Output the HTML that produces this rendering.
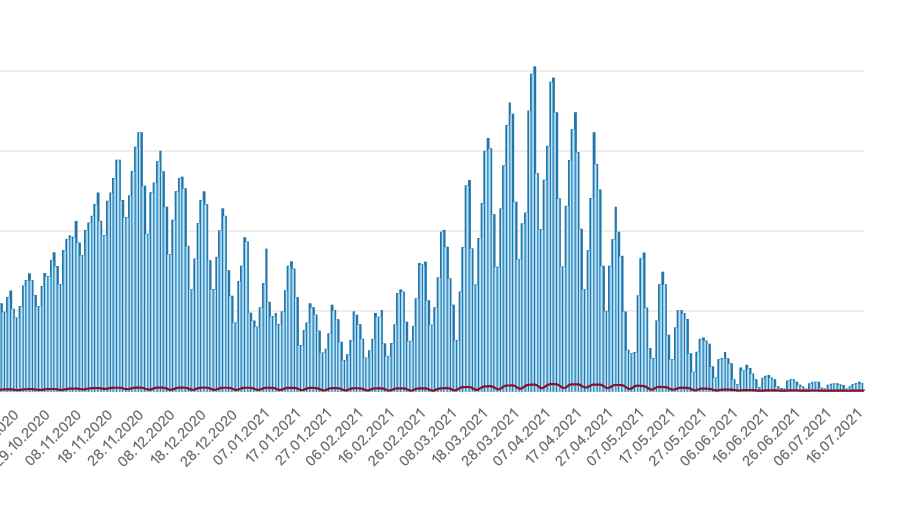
<!DOCTYPE html>
<html><head><meta charset="utf-8"><title>chart</title>
<style>
html,body{margin:0;padding:0;background:#fff;}
body{width:900px;height:505px;overflow:hidden;font-family:"Liberation Sans",sans-serif;}
svg{display:block;}
body{position:relative;}
.lb path{fill:none;stroke-width:1.45px;stroke-linejoin:miter;stroke-miterlimit:10;}
.lb{font-family:"Liberation Sans",sans-serif;font-size:14.5px;letter-spacing:0px;fill:#6a6a6a;text-anchor:start;stroke:#6a6a6a;stroke-width:0.2px;}
</style></head><body>
<svg width="900" height="505" viewBox="0 0 900 505">
<rect x="0" y="0" width="900" height="505" fill="#ffffff"/>
<g stroke="#e9e9e9" stroke-width="1.5">
<line x1="0" y1="71" x2="864" y2="71"/>
<line x1="0" y1="151" x2="864" y2="151"/>
<line x1="0" y1="231" x2="864" y2="231"/>
<line x1="0" y1="311" x2="864" y2="311"/>
<line x1="0" y1="391" x2="864" y2="391"/>
</g>
<g fill="#2476a8">
<rect x="0.000" y="303.30" width="2.867" height="88.40"/>
<rect x="3.333" y="311.70" width="2.200" height="80.00"/>
<rect x="6.000" y="297.00" width="2.867" height="94.70"/>
<rect x="9.333" y="290.50" width="2.867" height="101.20"/>
<rect x="12.667" y="308.70" width="2.200" height="83.00"/>
<rect x="15.333" y="317.50" width="2.867" height="74.20"/>
<rect x="18.667" y="306.00" width="2.867" height="85.70"/>
<rect x="22.000" y="285.50" width="2.200" height="106.20"/>
<rect x="24.667" y="280.00" width="2.867" height="111.70"/>
<rect x="28.000" y="273.30" width="2.867" height="118.40"/>
<rect x="31.333" y="280.00" width="2.200" height="111.70"/>
<rect x="34.000" y="295.00" width="2.867" height="96.70"/>
<rect x="37.333" y="306.00" width="2.867" height="85.70"/>
<rect x="40.667" y="286.00" width="2.200" height="105.70"/>
<rect x="43.333" y="273.00" width="2.867" height="118.70"/>
<rect x="46.667" y="276.00" width="2.867" height="115.70"/>
<rect x="50.000" y="260.00" width="2.200" height="131.70"/>
<rect x="52.667" y="252.30" width="2.867" height="139.40"/>
<rect x="56.000" y="266.00" width="2.867" height="125.70"/>
<rect x="59.333" y="284.00" width="2.200" height="107.70"/>
<rect x="62.000" y="250.00" width="2.867" height="141.70"/>
<rect x="65.333" y="239.00" width="2.867" height="152.70"/>
<rect x="68.667" y="235.30" width="2.200" height="156.40"/>
<rect x="71.333" y="236.70" width="2.867" height="155.00"/>
<rect x="74.667" y="221.00" width="2.867" height="170.70"/>
<rect x="78.000" y="242.50" width="2.867" height="149.20"/>
<rect x="81.333" y="255.00" width="2.200" height="136.70"/>
<rect x="84.000" y="230.00" width="2.867" height="161.70"/>
<rect x="87.333" y="222.50" width="2.867" height="169.20"/>
<rect x="90.667" y="215.80" width="2.200" height="175.90"/>
<rect x="93.333" y="204.00" width="2.867" height="187.70"/>
<rect x="96.667" y="192.50" width="2.867" height="199.20"/>
<rect x="100.000" y="220.80" width="2.200" height="170.90"/>
<rect x="102.667" y="235.00" width="2.867" height="156.70"/>
<rect x="106.000" y="200.80" width="2.867" height="190.90"/>
<rect x="109.333" y="192.50" width="2.200" height="199.20"/>
<rect x="112.000" y="178.00" width="2.867" height="213.70"/>
<rect x="115.333" y="159.70" width="2.867" height="232.00"/>
<rect x="118.667" y="159.70" width="2.200" height="232.00"/>
<rect x="121.333" y="200.00" width="2.867" height="191.70"/>
<rect x="124.667" y="217.00" width="2.867" height="174.70"/>
<rect x="128.000" y="195.30" width="2.200" height="196.40"/>
<rect x="130.667" y="171.00" width="2.867" height="220.70"/>
<rect x="134.000" y="146.70" width="2.867" height="245.00"/>
<rect x="137.333" y="132.20" width="2.200" height="259.50"/>
<rect x="140.000" y="132.20" width="2.867" height="259.50"/>
<rect x="143.333" y="185.70" width="2.867" height="206.00"/>
<rect x="146.667" y="233.80" width="2.200" height="157.90"/>
<rect x="149.333" y="192.20" width="2.867" height="199.50"/>
<rect x="152.667" y="182.50" width="2.867" height="209.20"/>
<rect x="156.000" y="161.20" width="2.867" height="230.50"/>
<rect x="159.333" y="150.80" width="2.200" height="240.90"/>
<rect x="162.000" y="171.30" width="2.867" height="220.40"/>
<rect x="165.333" y="206.70" width="2.867" height="185.00"/>
<rect x="168.667" y="254.00" width="2.200" height="137.70"/>
<rect x="171.333" y="219.70" width="2.867" height="172.00"/>
<rect x="174.667" y="191.20" width="2.867" height="200.50"/>
<rect x="178.000" y="178.00" width="2.200" height="213.70"/>
<rect x="180.667" y="176.70" width="2.867" height="215.00"/>
<rect x="184.000" y="188.30" width="2.867" height="203.40"/>
<rect x="187.333" y="245.80" width="2.200" height="145.90"/>
<rect x="190.000" y="289.30" width="2.867" height="102.40"/>
<rect x="193.333" y="258.50" width="2.867" height="133.20"/>
<rect x="196.667" y="223.00" width="2.200" height="168.70"/>
<rect x="199.333" y="200.00" width="2.867" height="191.70"/>
<rect x="202.667" y="191.30" width="2.867" height="200.40"/>
<rect x="206.000" y="204.20" width="2.200" height="187.50"/>
<rect x="208.667" y="260.20" width="2.867" height="131.50"/>
<rect x="212.000" y="289.00" width="2.867" height="102.70"/>
<rect x="215.333" y="256.80" width="2.200" height="134.90"/>
<rect x="218.000" y="230.30" width="2.867" height="161.40"/>
<rect x="221.333" y="208.30" width="2.867" height="183.40"/>
<rect x="224.667" y="215.80" width="2.200" height="175.90"/>
<rect x="227.333" y="270.20" width="2.867" height="121.50"/>
<rect x="230.667" y="295.70" width="2.867" height="96.00"/>
<rect x="234.000" y="322.50" width="2.867" height="69.20"/>
<rect x="237.333" y="281.00" width="2.200" height="110.70"/>
<rect x="240.000" y="265.70" width="2.867" height="126.00"/>
<rect x="243.333" y="237.20" width="2.867" height="154.50"/>
<rect x="246.667" y="241.40" width="2.200" height="150.30"/>
<rect x="249.333" y="312.70" width="2.867" height="79.00"/>
<rect x="252.667" y="320.50" width="2.867" height="71.20"/>
<rect x="256.000" y="326.50" width="2.200" height="65.20"/>
<rect x="258.667" y="307.30" width="2.867" height="84.40"/>
<rect x="262.000" y="283.00" width="2.867" height="108.70"/>
<rect x="265.333" y="248.60" width="2.200" height="143.10"/>
<rect x="268.000" y="301.80" width="2.867" height="89.90"/>
<rect x="271.333" y="316.00" width="2.867" height="75.70"/>
<rect x="274.667" y="313.00" width="2.200" height="78.70"/>
<rect x="277.333" y="324.00" width="2.867" height="67.70"/>
<rect x="280.667" y="311.30" width="2.867" height="80.40"/>
<rect x="284.000" y="290.20" width="2.200" height="101.50"/>
<rect x="286.667" y="265.70" width="2.867" height="126.00"/>
<rect x="290.000" y="261.30" width="2.867" height="130.40"/>
<rect x="293.333" y="268.50" width="2.200" height="123.20"/>
<rect x="296.000" y="297.20" width="2.867" height="94.50"/>
<rect x="299.333" y="345.00" width="2.867" height="46.70"/>
<rect x="302.667" y="330.00" width="2.200" height="61.70"/>
<rect x="305.333" y="322.50" width="2.867" height="69.20"/>
<rect x="308.667" y="303.30" width="2.867" height="88.40"/>
<rect x="312.000" y="307.20" width="2.867" height="84.50"/>
<rect x="315.333" y="314.50" width="2.200" height="77.20"/>
<rect x="318.000" y="330.50" width="2.867" height="61.20"/>
<rect x="321.333" y="352.50" width="2.867" height="39.20"/>
<rect x="324.667" y="348.70" width="2.200" height="43.00"/>
<rect x="327.333" y="333.30" width="2.867" height="58.40"/>
<rect x="330.667" y="304.70" width="2.867" height="87.00"/>
<rect x="334.000" y="310.00" width="2.200" height="81.70"/>
<rect x="336.667" y="319.20" width="2.867" height="72.50"/>
<rect x="340.000" y="341.70" width="2.867" height="50.00"/>
<rect x="343.333" y="360.00" width="2.200" height="31.70"/>
<rect x="346.000" y="354.20" width="2.867" height="37.50"/>
<rect x="349.333" y="340.00" width="2.867" height="51.70"/>
<rect x="352.667" y="311.30" width="2.200" height="80.40"/>
<rect x="355.333" y="314.70" width="2.867" height="77.00"/>
<rect x="358.667" y="324.20" width="2.867" height="67.50"/>
<rect x="362.000" y="338.70" width="2.200" height="53.00"/>
<rect x="364.667" y="357.50" width="2.867" height="34.20"/>
<rect x="368.000" y="350.30" width="2.867" height="41.40"/>
<rect x="371.333" y="338.70" width="2.200" height="53.00"/>
<rect x="374.000" y="313.00" width="2.867" height="78.70"/>
<rect x="377.333" y="316.70" width="2.867" height="75.00"/>
<rect x="380.667" y="310.00" width="2.200" height="81.70"/>
<rect x="383.333" y="343.30" width="2.867" height="48.40"/>
<rect x="386.667" y="355.80" width="2.867" height="35.90"/>
<rect x="390.000" y="343.00" width="2.867" height="48.70"/>
<rect x="393.333" y="324.20" width="2.200" height="67.50"/>
<rect x="396.000" y="293.00" width="2.867" height="98.70"/>
<rect x="399.333" y="289.30" width="2.867" height="102.40"/>
<rect x="402.667" y="291.50" width="2.200" height="100.20"/>
<rect x="405.333" y="321.70" width="2.867" height="70.00"/>
<rect x="408.667" y="340.80" width="2.867" height="50.90"/>
<rect x="412.000" y="325.80" width="2.200" height="65.90"/>
<rect x="414.667" y="298.30" width="2.867" height="93.40"/>
<rect x="418.000" y="263.00" width="2.867" height="128.70"/>
<rect x="421.333" y="264.20" width="2.200" height="127.50"/>
<rect x="424.000" y="261.70" width="2.867" height="130.00"/>
<rect x="427.333" y="300.20" width="2.867" height="91.50"/>
<rect x="430.667" y="324.50" width="2.200" height="67.20"/>
<rect x="433.333" y="307.30" width="2.867" height="84.40"/>
<rect x="436.667" y="277.30" width="2.867" height="114.40"/>
<rect x="440.000" y="231.70" width="2.200" height="160.00"/>
<rect x="442.667" y="230.00" width="2.867" height="161.70"/>
<rect x="446.000" y="246.70" width="2.867" height="145.00"/>
<rect x="449.333" y="278.30" width="2.200" height="113.40"/>
<rect x="452.000" y="304.70" width="2.867" height="87.00"/>
<rect x="455.333" y="340.00" width="2.867" height="51.70"/>
<rect x="458.667" y="291.50" width="2.200" height="100.20"/>
<rect x="461.333" y="247.00" width="2.867" height="144.70"/>
<rect x="464.667" y="185.30" width="2.867" height="206.40"/>
<rect x="468.000" y="180.00" width="2.867" height="211.70"/>
<rect x="471.333" y="248.30" width="2.200" height="143.40"/>
<rect x="474.000" y="284.50" width="2.867" height="107.20"/>
<rect x="477.333" y="238.00" width="2.867" height="153.70"/>
<rect x="480.667" y="203.00" width="2.200" height="188.70"/>
<rect x="483.333" y="150.80" width="2.867" height="240.90"/>
<rect x="486.667" y="138.00" width="2.867" height="253.70"/>
<rect x="490.000" y="148.30" width="2.200" height="243.40"/>
<rect x="492.667" y="214.20" width="2.867" height="177.50"/>
<rect x="496.000" y="266.70" width="2.867" height="125.00"/>
<rect x="499.333" y="208.30" width="2.200" height="183.40"/>
<rect x="502.000" y="165.30" width="2.867" height="226.40"/>
<rect x="505.333" y="125.00" width="2.867" height="266.70"/>
<rect x="508.667" y="102.50" width="2.200" height="289.20"/>
<rect x="511.333" y="113.70" width="2.867" height="278.00"/>
<rect x="514.667" y="201.70" width="2.867" height="190.00"/>
<rect x="518.000" y="259.20" width="2.200" height="132.50"/>
<rect x="520.667" y="223.30" width="2.867" height="168.40"/>
<rect x="524.000" y="212.50" width="2.867" height="179.20"/>
<rect x="527.333" y="110.50" width="2.200" height="281.20"/>
<rect x="530.000" y="73.70" width="2.867" height="318.00"/>
<rect x="533.333" y="66.30" width="2.867" height="325.40"/>
<rect x="536.667" y="173.00" width="2.200" height="218.70"/>
<rect x="539.333" y="229.20" width="2.867" height="162.50"/>
<rect x="542.667" y="179.70" width="2.867" height="212.00"/>
<rect x="546.000" y="145.80" width="2.867" height="245.90"/>
<rect x="549.333" y="81.70" width="2.200" height="310.00"/>
<rect x="552.000" y="77.50" width="2.867" height="314.20"/>
<rect x="555.333" y="112.20" width="2.867" height="279.50"/>
<rect x="558.667" y="198.30" width="2.200" height="193.40"/>
<rect x="561.333" y="266.50" width="2.867" height="125.20"/>
<rect x="564.667" y="205.80" width="2.867" height="185.90"/>
<rect x="568.000" y="160.00" width="2.200" height="231.70"/>
<rect x="570.667" y="129.20" width="2.867" height="262.50"/>
<rect x="574.000" y="112.20" width="2.867" height="279.50"/>
<rect x="577.333" y="152.00" width="2.200" height="239.70"/>
<rect x="580.000" y="228.70" width="2.867" height="163.00"/>
<rect x="583.333" y="289.20" width="2.867" height="102.50"/>
<rect x="586.667" y="250.00" width="2.200" height="141.70"/>
<rect x="589.333" y="198.00" width="2.867" height="193.70"/>
<rect x="592.667" y="132.20" width="2.867" height="259.50"/>
<rect x="596.000" y="164.00" width="2.200" height="227.70"/>
<rect x="598.667" y="189.50" width="2.867" height="202.20"/>
<rect x="602.000" y="265.80" width="2.867" height="125.90"/>
<rect x="605.333" y="310.80" width="2.200" height="80.90"/>
<rect x="608.000" y="265.80" width="2.867" height="125.90"/>
<rect x="611.333" y="239.20" width="2.867" height="152.50"/>
<rect x="614.667" y="206.70" width="2.200" height="185.00"/>
<rect x="617.333" y="231.70" width="2.867" height="160.00"/>
<rect x="620.667" y="255.80" width="2.867" height="135.90"/>
<rect x="624.000" y="311.50" width="2.867" height="80.20"/>
<rect x="627.333" y="349.70" width="2.200" height="42.00"/>
<rect x="630.000" y="353.30" width="2.867" height="38.40"/>
<rect x="633.333" y="352.00" width="2.867" height="39.70"/>
<rect x="636.667" y="295.30" width="2.200" height="96.40"/>
<rect x="639.333" y="258.20" width="2.867" height="133.50"/>
<rect x="642.667" y="252.50" width="2.867" height="139.20"/>
<rect x="646.000" y="307.50" width="2.200" height="84.20"/>
<rect x="648.667" y="348.00" width="2.867" height="43.70"/>
<rect x="652.000" y="358.00" width="2.867" height="33.70"/>
<rect x="655.333" y="320.30" width="2.200" height="71.40"/>
<rect x="658.000" y="284.20" width="2.867" height="107.50"/>
<rect x="661.333" y="271.70" width="2.867" height="120.00"/>
<rect x="664.667" y="284.20" width="2.200" height="107.50"/>
<rect x="667.333" y="334.70" width="2.867" height="57.00"/>
<rect x="670.667" y="359.20" width="2.867" height="32.50"/>
<rect x="674.000" y="327.30" width="2.200" height="64.40"/>
<rect x="676.667" y="310.20" width="2.867" height="81.50"/>
<rect x="680.000" y="310.20" width="2.867" height="81.50"/>
<rect x="683.333" y="313.00" width="2.200" height="78.70"/>
<rect x="686.000" y="319.00" width="2.867" height="72.70"/>
<rect x="689.333" y="353.30" width="2.867" height="38.40"/>
<rect x="692.667" y="371.70" width="2.200" height="20.00"/>
<rect x="695.333" y="351.70" width="2.867" height="40.00"/>
<rect x="698.667" y="338.80" width="2.867" height="52.90"/>
<rect x="702.000" y="337.50" width="2.867" height="54.20"/>
<rect x="705.333" y="340.50" width="2.200" height="51.20"/>
<rect x="708.000" y="343.70" width="2.867" height="48.00"/>
<rect x="711.333" y="366.30" width="2.867" height="25.40"/>
<rect x="714.667" y="377.50" width="2.200" height="14.20"/>
<rect x="717.333" y="359.20" width="2.867" height="32.50"/>
<rect x="720.667" y="358.00" width="2.867" height="33.70"/>
<rect x="724.000" y="352.00" width="2.200" height="39.70"/>
<rect x="726.667" y="358.30" width="2.867" height="33.40"/>
<rect x="730.000" y="363.30" width="2.867" height="28.40"/>
<rect x="733.333" y="379.20" width="2.200" height="12.50"/>
<rect x="736.000" y="384.20" width="2.867" height="7.50"/>
<rect x="739.333" y="367.50" width="2.867" height="24.20"/>
<rect x="742.667" y="370.30" width="2.200" height="21.40"/>
<rect x="745.333" y="364.80" width="2.867" height="26.90"/>
<rect x="748.667" y="368.00" width="2.867" height="23.70"/>
<rect x="752.000" y="373.50" width="2.200" height="18.20"/>
<rect x="754.667" y="379.20" width="2.867" height="12.50"/>
<rect x="758.000" y="387.00" width="2.867" height="4.70"/>
<rect x="761.333" y="377.80" width="2.200" height="13.90"/>
<rect x="764.000" y="375.80" width="2.867" height="15.90"/>
<rect x="767.333" y="375.00" width="2.867" height="16.70"/>
<rect x="770.667" y="377.50" width="2.200" height="14.20"/>
<rect x="773.333" y="379.20" width="2.867" height="12.50"/>
<rect x="776.667" y="386.30" width="2.867" height="5.40"/>
<rect x="780.000" y="388.00" width="2.867" height="3.70"/>
<rect x="783.333" y="388.50" width="2.200" height="3.20"/>
<rect x="786.000" y="380.50" width="2.867" height="11.20"/>
<rect x="789.333" y="379.20" width="2.867" height="12.50"/>
<rect x="792.667" y="379.20" width="2.200" height="12.50"/>
<rect x="795.333" y="381.70" width="2.867" height="10.00"/>
<rect x="798.667" y="384.70" width="2.867" height="7.00"/>
<rect x="802.000" y="386.30" width="2.200" height="5.40"/>
<rect x="804.667" y="388.50" width="2.867" height="3.20"/>
<rect x="808.000" y="383.30" width="2.867" height="8.40"/>
<rect x="811.333" y="381.70" width="2.200" height="10.00"/>
<rect x="814.000" y="381.70" width="2.867" height="10.00"/>
<rect x="817.333" y="381.70" width="2.867" height="10.00"/>
<rect x="820.667" y="387.50" width="2.200" height="4.20"/>
<rect x="823.333" y="388.50" width="2.867" height="3.20"/>
<rect x="826.667" y="384.70" width="2.867" height="7.00"/>
<rect x="830.000" y="383.70" width="2.200" height="8.00"/>
<rect x="832.667" y="383.30" width="2.867" height="8.40"/>
<rect x="836.000" y="383.30" width="2.867" height="8.40"/>
<rect x="839.333" y="384.20" width="2.200" height="7.50"/>
<rect x="842.000" y="385.00" width="2.867" height="6.70"/>
<rect x="845.333" y="388.50" width="2.867" height="3.20"/>
<rect x="848.667" y="386.30" width="2.200" height="5.40"/>
<rect x="851.333" y="384.20" width="2.867" height="7.50"/>
<rect x="854.667" y="383.00" width="2.867" height="8.70"/>
<rect x="858.000" y="381.70" width="2.867" height="10.00"/>
<rect x="861.333" y="383.00" width="2.200" height="8.70"/>
</g>
<g fill="#94d3f8">
<rect x="0.000" y="303.90" width="0.667" height="87.80"/>
<rect x="1.667" y="312.30" width="1.000" height="79.40"/>
<rect x="3.333" y="312.30" width="0.667" height="79.40"/>
<rect x="5.000" y="312.30" width="0.333" height="79.40"/>
<rect x="6.000" y="312.30" width="0.667" height="79.40"/>
<rect x="7.667" y="297.60" width="1.000" height="94.10"/>
<rect x="9.333" y="297.60" width="0.667" height="94.10"/>
<rect x="11.000" y="309.30" width="1.000" height="82.40"/>
<rect x="12.667" y="309.30" width="0.667" height="82.40"/>
<rect x="14.333" y="318.10" width="0.333" height="73.60"/>
<rect x="15.333" y="318.10" width="0.667" height="73.60"/>
<rect x="17.000" y="318.10" width="1.000" height="73.60"/>
<rect x="18.667" y="318.10" width="0.667" height="73.60"/>
<rect x="20.333" y="306.60" width="1.000" height="85.10"/>
<rect x="22.000" y="306.60" width="0.667" height="85.10"/>
<rect x="23.667" y="286.10" width="0.333" height="105.60"/>
<rect x="24.667" y="286.10" width="0.667" height="105.60"/>
<rect x="26.333" y="280.60" width="1.000" height="111.10"/>
<rect x="28.000" y="280.60" width="0.667" height="111.10"/>
<rect x="29.667" y="280.60" width="1.000" height="111.10"/>
<rect x="31.333" y="280.60" width="0.667" height="111.10"/>
<rect x="33.000" y="295.60" width="0.333" height="96.10"/>
<rect x="34.000" y="295.60" width="0.667" height="96.10"/>
<rect x="35.667" y="306.60" width="1.000" height="85.10"/>
<rect x="37.333" y="306.60" width="0.667" height="85.10"/>
<rect x="39.000" y="306.60" width="1.000" height="85.10"/>
<rect x="40.667" y="306.60" width="0.667" height="85.10"/>
<rect x="42.333" y="286.60" width="0.333" height="105.10"/>
<rect x="43.333" y="286.60" width="0.667" height="105.10"/>
<rect x="45.000" y="276.60" width="1.000" height="115.10"/>
<rect x="46.667" y="276.60" width="0.667" height="115.10"/>
<rect x="48.333" y="276.60" width="1.000" height="115.10"/>
<rect x="50.000" y="276.60" width="0.667" height="115.10"/>
<rect x="51.667" y="260.60" width="0.333" height="131.10"/>
<rect x="52.667" y="260.60" width="0.667" height="131.10"/>
<rect x="54.333" y="266.60" width="1.000" height="125.10"/>
<rect x="56.000" y="266.60" width="0.667" height="125.10"/>
<rect x="57.667" y="284.60" width="1.000" height="107.10"/>
<rect x="59.333" y="284.60" width="0.667" height="107.10"/>
<rect x="61.000" y="284.60" width="0.333" height="107.10"/>
<rect x="62.000" y="284.60" width="0.667" height="107.10"/>
<rect x="63.667" y="250.60" width="1.000" height="141.10"/>
<rect x="65.333" y="250.60" width="0.667" height="141.10"/>
<rect x="67.000" y="239.60" width="1.000" height="152.10"/>
<rect x="68.667" y="239.60" width="0.667" height="152.10"/>
<rect x="70.333" y="237.30" width="0.333" height="154.40"/>
<rect x="71.333" y="237.30" width="0.667" height="154.40"/>
<rect x="73.000" y="237.30" width="1.000" height="154.40"/>
<rect x="74.667" y="237.30" width="0.667" height="154.40"/>
<rect x="76.333" y="243.10" width="1.000" height="148.60"/>
<rect x="78.000" y="243.10" width="0.667" height="148.60"/>
<rect x="79.667" y="255.60" width="1.000" height="136.10"/>
<rect x="81.333" y="255.60" width="0.667" height="136.10"/>
<rect x="83.000" y="255.60" width="0.333" height="136.10"/>
<rect x="84.000" y="255.60" width="0.667" height="136.10"/>
<rect x="85.667" y="230.60" width="1.000" height="161.10"/>
<rect x="87.333" y="230.60" width="0.667" height="161.10"/>
<rect x="89.000" y="223.10" width="1.000" height="168.60"/>
<rect x="90.667" y="223.10" width="0.667" height="168.60"/>
<rect x="92.333" y="216.40" width="0.333" height="175.30"/>
<rect x="93.333" y="216.40" width="0.667" height="175.30"/>
<rect x="95.000" y="204.60" width="1.000" height="187.10"/>
<rect x="96.667" y="204.60" width="0.667" height="187.10"/>
<rect x="98.333" y="221.40" width="1.000" height="170.30"/>
<rect x="100.000" y="221.40" width="0.667" height="170.30"/>
<rect x="101.667" y="235.60" width="0.333" height="156.10"/>
<rect x="102.667" y="235.60" width="0.667" height="156.10"/>
<rect x="104.333" y="235.60" width="1.000" height="156.10"/>
<rect x="106.000" y="235.60" width="0.667" height="156.10"/>
<rect x="107.667" y="201.40" width="1.000" height="190.30"/>
<rect x="109.333" y="201.40" width="0.667" height="190.30"/>
<rect x="111.000" y="193.10" width="0.333" height="198.60"/>
<rect x="112.000" y="193.10" width="0.667" height="198.60"/>
<rect x="113.667" y="178.60" width="1.000" height="213.10"/>
<rect x="115.333" y="178.60" width="0.667" height="213.10"/>
<rect x="117.000" y="160.30" width="1.000" height="231.40"/>
<rect x="118.667" y="160.30" width="0.667" height="231.40"/>
<rect x="120.333" y="200.60" width="0.333" height="191.10"/>
<rect x="121.333" y="200.60" width="0.667" height="191.10"/>
<rect x="123.000" y="217.60" width="1.000" height="174.10"/>
<rect x="124.667" y="217.60" width="0.667" height="174.10"/>
<rect x="126.333" y="217.60" width="1.000" height="174.10"/>
<rect x="128.000" y="217.60" width="0.667" height="174.10"/>
<rect x="129.667" y="195.90" width="0.333" height="195.80"/>
<rect x="130.667" y="195.90" width="0.667" height="195.80"/>
<rect x="132.333" y="171.60" width="1.000" height="220.10"/>
<rect x="134.000" y="171.60" width="0.667" height="220.10"/>
<rect x="135.667" y="147.30" width="1.000" height="244.40"/>
<rect x="137.333" y="147.30" width="0.667" height="244.40"/>
<rect x="139.000" y="132.80" width="0.333" height="258.90"/>
<rect x="140.000" y="132.80" width="0.667" height="258.90"/>
<rect x="141.667" y="186.30" width="1.000" height="205.40"/>
<rect x="143.333" y="186.30" width="0.667" height="205.40"/>
<rect x="145.000" y="234.40" width="1.000" height="157.30"/>
<rect x="146.667" y="234.40" width="0.667" height="157.30"/>
<rect x="148.333" y="234.40" width="0.333" height="157.30"/>
<rect x="149.333" y="234.40" width="0.667" height="157.30"/>
<rect x="151.000" y="192.80" width="1.000" height="198.90"/>
<rect x="152.667" y="192.80" width="0.667" height="198.90"/>
<rect x="154.333" y="183.10" width="1.000" height="208.60"/>
<rect x="156.000" y="183.10" width="0.667" height="208.60"/>
<rect x="157.667" y="161.80" width="1.000" height="229.90"/>
<rect x="159.333" y="161.80" width="0.667" height="229.90"/>
<rect x="161.000" y="171.90" width="0.333" height="219.80"/>
<rect x="162.000" y="171.90" width="0.667" height="219.80"/>
<rect x="163.667" y="207.30" width="1.000" height="184.40"/>
<rect x="165.333" y="207.30" width="0.667" height="184.40"/>
<rect x="167.000" y="254.60" width="1.000" height="137.10"/>
<rect x="168.667" y="254.60" width="0.667" height="137.10"/>
<rect x="170.333" y="254.60" width="0.333" height="137.10"/>
<rect x="171.333" y="254.60" width="0.667" height="137.10"/>
<rect x="173.000" y="220.30" width="1.000" height="171.40"/>
<rect x="174.667" y="220.30" width="0.667" height="171.40"/>
<rect x="176.333" y="191.80" width="1.000" height="199.90"/>
<rect x="178.000" y="191.80" width="0.667" height="199.90"/>
<rect x="179.667" y="178.60" width="0.333" height="213.10"/>
<rect x="180.667" y="178.60" width="0.667" height="213.10"/>
<rect x="182.333" y="188.90" width="1.000" height="202.80"/>
<rect x="184.000" y="188.90" width="0.667" height="202.80"/>
<rect x="185.667" y="246.40" width="1.000" height="145.30"/>
<rect x="187.333" y="246.40" width="0.667" height="145.30"/>
<rect x="189.000" y="289.90" width="0.333" height="101.80"/>
<rect x="190.000" y="289.90" width="0.667" height="101.80"/>
<rect x="191.667" y="289.90" width="1.000" height="101.80"/>
<rect x="193.333" y="289.90" width="0.667" height="101.80"/>
<rect x="195.000" y="259.10" width="1.000" height="132.60"/>
<rect x="196.667" y="259.10" width="0.667" height="132.60"/>
<rect x="198.333" y="223.60" width="0.333" height="168.10"/>
<rect x="199.333" y="223.60" width="0.667" height="168.10"/>
<rect x="201.000" y="200.60" width="1.000" height="191.10"/>
<rect x="202.667" y="200.60" width="0.667" height="191.10"/>
<rect x="204.333" y="204.80" width="1.000" height="186.90"/>
<rect x="206.000" y="204.80" width="0.667" height="186.90"/>
<rect x="207.667" y="260.80" width="0.333" height="130.90"/>
<rect x="208.667" y="260.80" width="0.667" height="130.90"/>
<rect x="210.333" y="289.60" width="1.000" height="102.10"/>
<rect x="212.000" y="289.60" width="0.667" height="102.10"/>
<rect x="213.667" y="289.60" width="1.000" height="102.10"/>
<rect x="215.333" y="289.60" width="0.667" height="102.10"/>
<rect x="217.000" y="257.40" width="0.333" height="134.30"/>
<rect x="218.000" y="257.40" width="0.667" height="134.30"/>
<rect x="219.667" y="230.90" width="1.000" height="160.80"/>
<rect x="221.333" y="230.90" width="0.667" height="160.80"/>
<rect x="223.000" y="216.40" width="1.000" height="175.30"/>
<rect x="224.667" y="216.40" width="0.667" height="175.30"/>
<rect x="226.333" y="270.80" width="0.333" height="120.90"/>
<rect x="227.333" y="270.80" width="0.667" height="120.90"/>
<rect x="229.000" y="296.30" width="1.000" height="95.40"/>
<rect x="230.667" y="296.30" width="0.667" height="95.40"/>
<rect x="232.333" y="323.10" width="1.000" height="68.60"/>
<rect x="234.000" y="323.10" width="0.667" height="68.60"/>
<rect x="235.667" y="323.10" width="1.000" height="68.60"/>
<rect x="237.333" y="323.10" width="0.667" height="68.60"/>
<rect x="239.000" y="281.60" width="0.333" height="110.10"/>
<rect x="240.000" y="281.60" width="0.667" height="110.10"/>
<rect x="241.667" y="266.30" width="1.000" height="125.40"/>
<rect x="243.333" y="266.30" width="0.667" height="125.40"/>
<rect x="245.000" y="242.00" width="1.000" height="149.70"/>
<rect x="246.667" y="242.00" width="0.667" height="149.70"/>
<rect x="248.333" y="313.30" width="0.333" height="78.40"/>
<rect x="249.333" y="313.30" width="0.667" height="78.40"/>
<rect x="251.000" y="321.10" width="1.000" height="70.60"/>
<rect x="252.667" y="321.10" width="0.667" height="70.60"/>
<rect x="254.333" y="327.10" width="1.000" height="64.60"/>
<rect x="256.000" y="327.10" width="0.667" height="64.60"/>
<rect x="257.667" y="327.10" width="0.333" height="64.60"/>
<rect x="258.667" y="327.10" width="0.667" height="64.60"/>
<rect x="260.333" y="307.90" width="1.000" height="83.80"/>
<rect x="262.000" y="307.90" width="0.667" height="83.80"/>
<rect x="263.667" y="283.60" width="1.000" height="108.10"/>
<rect x="265.333" y="283.60" width="0.667" height="108.10"/>
<rect x="267.000" y="302.40" width="0.333" height="89.30"/>
<rect x="268.000" y="302.40" width="0.667" height="89.30"/>
<rect x="269.667" y="316.60" width="1.000" height="75.10"/>
<rect x="271.333" y="316.60" width="0.667" height="75.10"/>
<rect x="273.000" y="316.60" width="1.000" height="75.10"/>
<rect x="274.667" y="316.60" width="0.667" height="75.10"/>
<rect x="276.333" y="324.60" width="0.333" height="67.10"/>
<rect x="277.333" y="324.60" width="0.667" height="67.10"/>
<rect x="279.000" y="324.60" width="1.000" height="67.10"/>
<rect x="280.667" y="324.60" width="0.667" height="67.10"/>
<rect x="282.333" y="311.90" width="1.000" height="79.80"/>
<rect x="284.000" y="311.90" width="0.667" height="79.80"/>
<rect x="285.667" y="290.80" width="0.333" height="100.90"/>
<rect x="286.667" y="290.80" width="0.667" height="100.90"/>
<rect x="288.333" y="266.30" width="1.000" height="125.40"/>
<rect x="290.000" y="266.30" width="0.667" height="125.40"/>
<rect x="291.667" y="269.10" width="1.000" height="122.60"/>
<rect x="293.333" y="269.10" width="0.667" height="122.60"/>
<rect x="295.000" y="297.80" width="0.333" height="93.90"/>
<rect x="296.000" y="297.80" width="0.667" height="93.90"/>
<rect x="297.667" y="345.60" width="1.000" height="46.10"/>
<rect x="299.333" y="345.60" width="0.667" height="46.10"/>
<rect x="301.000" y="345.60" width="1.000" height="46.10"/>
<rect x="302.667" y="345.60" width="0.667" height="46.10"/>
<rect x="304.333" y="330.60" width="0.333" height="61.10"/>
<rect x="305.333" y="330.60" width="0.667" height="61.10"/>
<rect x="307.000" y="323.10" width="1.000" height="68.60"/>
<rect x="308.667" y="323.10" width="0.667" height="68.60"/>
<rect x="310.333" y="307.80" width="1.000" height="83.90"/>
<rect x="312.000" y="307.80" width="0.667" height="83.90"/>
<rect x="313.667" y="315.10" width="1.000" height="76.60"/>
<rect x="315.333" y="315.10" width="0.667" height="76.60"/>
<rect x="317.000" y="331.10" width="0.333" height="60.60"/>
<rect x="318.000" y="331.10" width="0.667" height="60.60"/>
<rect x="319.667" y="353.10" width="1.000" height="38.60"/>
<rect x="321.333" y="353.10" width="0.667" height="38.60"/>
<rect x="323.000" y="353.10" width="1.000" height="38.60"/>
<rect x="324.667" y="353.10" width="0.667" height="38.60"/>
<rect x="326.333" y="349.30" width="0.333" height="42.40"/>
<rect x="327.333" y="349.30" width="0.667" height="42.40"/>
<rect x="329.000" y="333.90" width="1.000" height="57.80"/>
<rect x="330.667" y="333.90" width="0.667" height="57.80"/>
<rect x="332.333" y="310.60" width="1.000" height="81.10"/>
<rect x="334.000" y="310.60" width="0.667" height="81.10"/>
<rect x="335.667" y="319.80" width="0.333" height="71.90"/>
<rect x="336.667" y="319.80" width="0.667" height="71.90"/>
<rect x="338.333" y="342.30" width="1.000" height="49.40"/>
<rect x="340.000" y="342.30" width="0.667" height="49.40"/>
<rect x="341.667" y="360.60" width="1.000" height="31.10"/>
<rect x="343.333" y="360.60" width="0.667" height="31.10"/>
<rect x="345.000" y="360.60" width="0.333" height="31.10"/>
<rect x="346.000" y="360.60" width="0.667" height="31.10"/>
<rect x="347.667" y="354.80" width="1.000" height="36.90"/>
<rect x="349.333" y="354.80" width="0.667" height="36.90"/>
<rect x="351.000" y="340.60" width="1.000" height="51.10"/>
<rect x="352.667" y="340.60" width="0.667" height="51.10"/>
<rect x="354.333" y="315.30" width="0.333" height="76.40"/>
<rect x="355.333" y="315.30" width="0.667" height="76.40"/>
<rect x="357.000" y="324.80" width="1.000" height="66.90"/>
<rect x="358.667" y="324.80" width="0.667" height="66.90"/>
<rect x="360.333" y="339.30" width="1.000" height="52.40"/>
<rect x="362.000" y="339.30" width="0.667" height="52.40"/>
<rect x="363.667" y="358.10" width="0.333" height="33.60"/>
<rect x="364.667" y="358.10" width="0.667" height="33.60"/>
<rect x="366.333" y="358.10" width="1.000" height="33.60"/>
<rect x="368.000" y="358.10" width="0.667" height="33.60"/>
<rect x="369.667" y="350.90" width="1.000" height="40.80"/>
<rect x="371.333" y="350.90" width="0.667" height="40.80"/>
<rect x="373.000" y="339.30" width="0.333" height="52.40"/>
<rect x="374.000" y="339.30" width="0.667" height="52.40"/>
<rect x="375.667" y="317.30" width="1.000" height="74.40"/>
<rect x="377.333" y="317.30" width="0.667" height="74.40"/>
<rect x="379.000" y="317.30" width="1.000" height="74.40"/>
<rect x="380.667" y="317.30" width="0.667" height="74.40"/>
<rect x="382.333" y="343.90" width="0.333" height="47.80"/>
<rect x="383.333" y="343.90" width="0.667" height="47.80"/>
<rect x="385.000" y="356.40" width="1.000" height="35.30"/>
<rect x="386.667" y="356.40" width="0.667" height="35.30"/>
<rect x="388.333" y="356.40" width="1.000" height="35.30"/>
<rect x="390.000" y="356.40" width="0.667" height="35.30"/>
<rect x="391.667" y="343.60" width="1.000" height="48.10"/>
<rect x="393.333" y="343.60" width="0.667" height="48.10"/>
<rect x="395.000" y="324.80" width="0.333" height="66.90"/>
<rect x="396.000" y="324.80" width="0.667" height="66.90"/>
<rect x="397.667" y="293.60" width="1.000" height="98.10"/>
<rect x="399.333" y="293.60" width="0.667" height="98.10"/>
<rect x="401.000" y="292.10" width="1.000" height="99.60"/>
<rect x="402.667" y="292.10" width="0.667" height="99.60"/>
<rect x="404.333" y="322.30" width="0.333" height="69.40"/>
<rect x="405.333" y="322.30" width="0.667" height="69.40"/>
<rect x="407.000" y="341.40" width="1.000" height="50.30"/>
<rect x="408.667" y="341.40" width="0.667" height="50.30"/>
<rect x="410.333" y="341.40" width="1.000" height="50.30"/>
<rect x="412.000" y="341.40" width="0.667" height="50.30"/>
<rect x="413.667" y="326.40" width="0.333" height="65.30"/>
<rect x="414.667" y="326.40" width="0.667" height="65.30"/>
<rect x="416.333" y="298.90" width="1.000" height="92.80"/>
<rect x="418.000" y="298.90" width="0.667" height="92.80"/>
<rect x="419.667" y="264.80" width="1.000" height="126.90"/>
<rect x="421.333" y="264.80" width="0.667" height="126.90"/>
<rect x="423.000" y="264.80" width="0.333" height="126.90"/>
<rect x="424.000" y="264.80" width="0.667" height="126.90"/>
<rect x="425.667" y="300.80" width="1.000" height="90.90"/>
<rect x="427.333" y="300.80" width="0.667" height="90.90"/>
<rect x="429.000" y="325.10" width="1.000" height="66.60"/>
<rect x="430.667" y="325.10" width="0.667" height="66.60"/>
<rect x="432.333" y="325.10" width="0.333" height="66.60"/>
<rect x="433.333" y="325.10" width="0.667" height="66.60"/>
<rect x="435.000" y="307.90" width="1.000" height="83.80"/>
<rect x="436.667" y="307.90" width="0.667" height="83.80"/>
<rect x="438.333" y="277.90" width="1.000" height="113.80"/>
<rect x="440.000" y="277.90" width="0.667" height="113.80"/>
<rect x="441.667" y="232.30" width="0.333" height="159.40"/>
<rect x="442.667" y="232.30" width="0.667" height="159.40"/>
<rect x="444.333" y="247.30" width="1.000" height="144.40"/>
<rect x="446.000" y="247.30" width="0.667" height="144.40"/>
<rect x="447.667" y="278.90" width="1.000" height="112.80"/>
<rect x="449.333" y="278.90" width="0.667" height="112.80"/>
<rect x="451.000" y="305.30" width="0.333" height="86.40"/>
<rect x="452.000" y="305.30" width="0.667" height="86.40"/>
<rect x="453.667" y="340.60" width="1.000" height="51.10"/>
<rect x="455.333" y="340.60" width="0.667" height="51.10"/>
<rect x="457.000" y="340.60" width="1.000" height="51.10"/>
<rect x="458.667" y="340.60" width="0.667" height="51.10"/>
<rect x="460.333" y="292.10" width="0.333" height="99.60"/>
<rect x="461.333" y="292.10" width="0.667" height="99.60"/>
<rect x="463.000" y="247.60" width="1.000" height="144.10"/>
<rect x="464.667" y="247.60" width="0.667" height="144.10"/>
<rect x="466.333" y="185.90" width="1.000" height="205.80"/>
<rect x="468.000" y="185.90" width="0.667" height="205.80"/>
<rect x="469.667" y="248.90" width="1.000" height="142.80"/>
<rect x="471.333" y="248.90" width="0.667" height="142.80"/>
<rect x="473.000" y="285.10" width="0.333" height="106.60"/>
<rect x="474.000" y="285.10" width="0.667" height="106.60"/>
<rect x="475.667" y="285.10" width="1.000" height="106.60"/>
<rect x="477.333" y="285.10" width="0.667" height="106.60"/>
<rect x="479.000" y="238.60" width="1.000" height="153.10"/>
<rect x="480.667" y="238.60" width="0.667" height="153.10"/>
<rect x="482.333" y="203.60" width="0.333" height="188.10"/>
<rect x="483.333" y="203.60" width="0.667" height="188.10"/>
<rect x="485.000" y="151.40" width="1.000" height="240.30"/>
<rect x="486.667" y="151.40" width="0.667" height="240.30"/>
<rect x="488.333" y="148.90" width="1.000" height="242.80"/>
<rect x="490.000" y="148.90" width="0.667" height="242.80"/>
<rect x="491.667" y="214.80" width="0.333" height="176.90"/>
<rect x="492.667" y="214.80" width="0.667" height="176.90"/>
<rect x="494.333" y="267.30" width="1.000" height="124.40"/>
<rect x="496.000" y="267.30" width="0.667" height="124.40"/>
<rect x="497.667" y="267.30" width="1.000" height="124.40"/>
<rect x="499.333" y="267.30" width="0.667" height="124.40"/>
<rect x="501.000" y="208.90" width="0.333" height="182.80"/>
<rect x="502.000" y="208.90" width="0.667" height="182.80"/>
<rect x="503.667" y="165.90" width="1.000" height="225.80"/>
<rect x="505.333" y="165.90" width="0.667" height="225.80"/>
<rect x="507.000" y="125.60" width="1.000" height="266.10"/>
<rect x="508.667" y="125.60" width="0.667" height="266.10"/>
<rect x="510.333" y="114.30" width="0.333" height="277.40"/>
<rect x="511.333" y="114.30" width="0.667" height="277.40"/>
<rect x="513.000" y="202.30" width="1.000" height="189.40"/>
<rect x="514.667" y="202.30" width="0.667" height="189.40"/>
<rect x="516.333" y="259.80" width="1.000" height="131.90"/>
<rect x="518.000" y="259.80" width="0.667" height="131.90"/>
<rect x="519.667" y="259.80" width="0.333" height="131.90"/>
<rect x="520.667" y="259.80" width="0.667" height="131.90"/>
<rect x="522.333" y="223.90" width="1.000" height="167.80"/>
<rect x="524.000" y="223.90" width="0.667" height="167.80"/>
<rect x="525.667" y="213.10" width="1.000" height="178.60"/>
<rect x="527.333" y="213.10" width="0.667" height="178.60"/>
<rect x="529.000" y="111.10" width="0.333" height="280.60"/>
<rect x="530.000" y="111.10" width="0.667" height="280.60"/>
<rect x="531.667" y="74.30" width="1.000" height="317.40"/>
<rect x="533.333" y="74.30" width="0.667" height="317.40"/>
<rect x="535.000" y="173.60" width="1.000" height="218.10"/>
<rect x="536.667" y="173.60" width="0.667" height="218.10"/>
<rect x="538.333" y="229.80" width="0.333" height="161.90"/>
<rect x="539.333" y="229.80" width="0.667" height="161.90"/>
<rect x="541.000" y="229.80" width="1.000" height="161.90"/>
<rect x="542.667" y="229.80" width="0.667" height="161.90"/>
<rect x="544.333" y="180.30" width="1.000" height="211.40"/>
<rect x="546.000" y="180.30" width="0.667" height="211.40"/>
<rect x="547.667" y="146.40" width="1.000" height="245.30"/>
<rect x="549.333" y="146.40" width="0.667" height="245.30"/>
<rect x="551.000" y="82.30" width="0.333" height="309.40"/>
<rect x="552.000" y="82.30" width="0.667" height="309.40"/>
<rect x="553.667" y="112.80" width="1.000" height="278.90"/>
<rect x="555.333" y="112.80" width="0.667" height="278.90"/>
<rect x="557.000" y="198.90" width="1.000" height="192.80"/>
<rect x="558.667" y="198.90" width="0.667" height="192.80"/>
<rect x="560.333" y="267.10" width="0.333" height="124.60"/>
<rect x="561.333" y="267.10" width="0.667" height="124.60"/>
<rect x="563.000" y="267.10" width="1.000" height="124.60"/>
<rect x="564.667" y="267.10" width="0.667" height="124.60"/>
<rect x="566.333" y="206.40" width="1.000" height="185.30"/>
<rect x="568.000" y="206.40" width="0.667" height="185.30"/>
<rect x="569.667" y="160.60" width="0.333" height="231.10"/>
<rect x="570.667" y="160.60" width="0.667" height="231.10"/>
<rect x="572.333" y="129.80" width="1.000" height="261.90"/>
<rect x="574.000" y="129.80" width="0.667" height="261.90"/>
<rect x="575.667" y="152.60" width="1.000" height="239.10"/>
<rect x="577.333" y="152.60" width="0.667" height="239.10"/>
<rect x="579.000" y="229.30" width="0.333" height="162.40"/>
<rect x="580.000" y="229.30" width="0.667" height="162.40"/>
<rect x="581.667" y="289.80" width="1.000" height="101.90"/>
<rect x="583.333" y="289.80" width="0.667" height="101.90"/>
<rect x="585.000" y="289.80" width="1.000" height="101.90"/>
<rect x="586.667" y="289.80" width="0.667" height="101.90"/>
<rect x="588.333" y="250.60" width="0.333" height="141.10"/>
<rect x="589.333" y="250.60" width="0.667" height="141.10"/>
<rect x="591.000" y="198.60" width="1.000" height="193.10"/>
<rect x="592.667" y="198.60" width="0.667" height="193.10"/>
<rect x="594.333" y="164.60" width="1.000" height="227.10"/>
<rect x="596.000" y="164.60" width="0.667" height="227.10"/>
<rect x="597.667" y="190.10" width="0.333" height="201.60"/>
<rect x="598.667" y="190.10" width="0.667" height="201.60"/>
<rect x="600.333" y="266.40" width="1.000" height="125.30"/>
<rect x="602.000" y="266.40" width="0.667" height="125.30"/>
<rect x="603.667" y="311.40" width="1.000" height="80.30"/>
<rect x="605.333" y="311.40" width="0.667" height="80.30"/>
<rect x="607.000" y="311.40" width="0.333" height="80.30"/>
<rect x="608.000" y="311.40" width="0.667" height="80.30"/>
<rect x="609.667" y="266.40" width="1.000" height="125.30"/>
<rect x="611.333" y="266.40" width="0.667" height="125.30"/>
<rect x="613.000" y="239.80" width="1.000" height="151.90"/>
<rect x="614.667" y="239.80" width="0.667" height="151.90"/>
<rect x="616.333" y="232.30" width="0.333" height="159.40"/>
<rect x="617.333" y="232.30" width="0.667" height="159.40"/>
<rect x="619.000" y="256.40" width="1.000" height="135.30"/>
<rect x="620.667" y="256.40" width="0.667" height="135.30"/>
<rect x="622.333" y="312.10" width="1.000" height="79.60"/>
<rect x="624.000" y="312.10" width="0.667" height="79.60"/>
<rect x="625.667" y="350.30" width="1.000" height="41.40"/>
<rect x="627.333" y="350.30" width="0.667" height="41.40"/>
<rect x="629.000" y="353.90" width="0.333" height="37.80"/>
<rect x="630.000" y="353.90" width="0.667" height="37.80"/>
<rect x="631.667" y="353.90" width="1.000" height="37.80"/>
<rect x="633.333" y="353.90" width="0.667" height="37.80"/>
<rect x="635.000" y="352.60" width="1.000" height="39.10"/>
<rect x="636.667" y="352.60" width="0.667" height="39.10"/>
<rect x="638.333" y="295.90" width="0.333" height="95.80"/>
<rect x="639.333" y="295.90" width="0.667" height="95.80"/>
<rect x="641.000" y="258.80" width="1.000" height="132.90"/>
<rect x="642.667" y="258.80" width="0.667" height="132.90"/>
<rect x="644.333" y="308.10" width="1.000" height="83.60"/>
<rect x="646.000" y="308.10" width="0.667" height="83.60"/>
<rect x="647.667" y="348.60" width="0.333" height="43.10"/>
<rect x="648.667" y="348.60" width="0.667" height="43.10"/>
<rect x="650.333" y="358.60" width="1.000" height="33.10"/>
<rect x="652.000" y="358.60" width="0.667" height="33.10"/>
<rect x="653.667" y="358.60" width="1.000" height="33.10"/>
<rect x="655.333" y="358.60" width="0.667" height="33.10"/>
<rect x="657.000" y="320.90" width="0.333" height="70.80"/>
<rect x="658.000" y="320.90" width="0.667" height="70.80"/>
<rect x="659.667" y="284.80" width="1.000" height="106.90"/>
<rect x="661.333" y="284.80" width="0.667" height="106.90"/>
<rect x="663.000" y="284.80" width="1.000" height="106.90"/>
<rect x="664.667" y="284.80" width="0.667" height="106.90"/>
<rect x="666.333" y="335.30" width="0.333" height="56.40"/>
<rect x="667.333" y="335.30" width="0.667" height="56.40"/>
<rect x="669.000" y="359.80" width="1.000" height="31.90"/>
<rect x="670.667" y="359.80" width="0.667" height="31.90"/>
<rect x="672.333" y="359.80" width="1.000" height="31.90"/>
<rect x="674.000" y="359.80" width="0.667" height="31.90"/>
<rect x="675.667" y="327.90" width="0.333" height="63.80"/>
<rect x="676.667" y="327.90" width="0.667" height="63.80"/>
<rect x="678.333" y="310.80" width="1.000" height="80.90"/>
<rect x="680.000" y="310.80" width="0.667" height="80.90"/>
<rect x="681.667" y="313.60" width="1.000" height="78.10"/>
<rect x="683.333" y="313.60" width="0.667" height="78.10"/>
<rect x="685.000" y="319.60" width="0.333" height="72.10"/>
<rect x="686.000" y="319.60" width="0.667" height="72.10"/>
<rect x="687.667" y="353.90" width="1.000" height="37.80"/>
<rect x="689.333" y="353.90" width="0.667" height="37.80"/>
<rect x="691.000" y="372.30" width="1.000" height="19.40"/>
<rect x="692.667" y="372.30" width="0.667" height="19.40"/>
<rect x="694.333" y="372.30" width="0.333" height="19.40"/>
<rect x="695.333" y="372.30" width="0.667" height="19.40"/>
<rect x="697.000" y="352.30" width="1.000" height="39.40"/>
<rect x="698.667" y="352.30" width="0.667" height="39.40"/>
<rect x="700.333" y="339.40" width="1.000" height="52.30"/>
<rect x="702.000" y="339.40" width="0.667" height="52.30"/>
<rect x="703.667" y="341.10" width="1.000" height="50.60"/>
<rect x="705.333" y="341.10" width="0.667" height="50.60"/>
<rect x="707.000" y="344.30" width="0.333" height="47.40"/>
<rect x="708.000" y="344.30" width="0.667" height="47.40"/>
<rect x="709.667" y="366.90" width="1.000" height="24.80"/>
<rect x="711.333" y="366.90" width="0.667" height="24.80"/>
<rect x="713.000" y="378.10" width="1.000" height="13.60"/>
<rect x="714.667" y="378.10" width="0.667" height="13.60"/>
<rect x="716.333" y="378.10" width="0.333" height="13.60"/>
<rect x="717.333" y="378.10" width="0.667" height="13.60"/>
<rect x="719.000" y="359.80" width="1.000" height="31.90"/>
<rect x="720.667" y="359.80" width="0.667" height="31.90"/>
<rect x="722.333" y="358.60" width="1.000" height="33.10"/>
<rect x="724.000" y="358.60" width="0.667" height="33.10"/>
<rect x="725.667" y="358.90" width="0.333" height="32.80"/>
<rect x="726.667" y="358.90" width="0.667" height="32.80"/>
<rect x="728.333" y="363.90" width="1.000" height="27.80"/>
<rect x="730.000" y="363.90" width="0.667" height="27.80"/>
<rect x="731.667" y="379.80" width="1.000" height="11.90"/>
<rect x="733.333" y="379.80" width="0.667" height="11.90"/>
<rect x="735.000" y="384.80" width="0.333" height="6.90"/>
<rect x="736.000" y="384.80" width="0.667" height="6.90"/>
<rect x="737.667" y="384.80" width="1.000" height="6.90"/>
<rect x="739.333" y="384.80" width="0.667" height="6.90"/>
<rect x="741.000" y="370.90" width="1.000" height="20.80"/>
<rect x="742.667" y="370.90" width="0.667" height="20.80"/>
<rect x="744.333" y="370.90" width="0.333" height="20.80"/>
<rect x="745.333" y="370.90" width="0.667" height="20.80"/>
<rect x="747.000" y="368.60" width="1.000" height="23.10"/>
<rect x="748.667" y="368.60" width="0.667" height="23.10"/>
<rect x="750.333" y="374.10" width="1.000" height="17.60"/>
<rect x="752.000" y="374.10" width="0.667" height="17.60"/>
<rect x="753.667" y="379.80" width="0.333" height="11.90"/>
<rect x="754.667" y="379.80" width="0.667" height="11.90"/>
<rect x="756.333" y="387.60" width="1.000" height="4.10"/>
<rect x="758.000" y="387.60" width="0.667" height="4.10"/>
<rect x="759.667" y="387.60" width="1.000" height="4.10"/>
<rect x="761.333" y="387.60" width="0.667" height="4.10"/>
<rect x="763.000" y="378.40" width="0.333" height="13.30"/>
<rect x="764.000" y="378.40" width="0.667" height="13.30"/>
<rect x="765.667" y="376.40" width="1.000" height="15.30"/>
<rect x="767.333" y="376.40" width="0.667" height="15.30"/>
<rect x="769.000" y="378.10" width="1.000" height="13.60"/>
<rect x="770.667" y="378.10" width="0.667" height="13.60"/>
<rect x="772.333" y="379.80" width="0.333" height="11.90"/>
<rect x="773.333" y="379.80" width="0.667" height="11.90"/>
<rect x="775.000" y="386.90" width="1.000" height="4.80"/>
<rect x="776.667" y="386.90" width="0.667" height="4.80"/>
<rect x="778.333" y="388.60" width="1.000" height="3.10"/>
<rect x="780.000" y="388.60" width="0.667" height="3.10"/>
<rect x="781.667" y="389.10" width="1.000" height="2.60"/>
<rect x="783.333" y="389.10" width="0.667" height="2.60"/>
<rect x="785.000" y="389.10" width="0.333" height="2.60"/>
<rect x="786.000" y="389.10" width="0.667" height="2.60"/>
<rect x="787.667" y="381.10" width="1.000" height="10.60"/>
<rect x="789.333" y="381.10" width="0.667" height="10.60"/>
<rect x="791.000" y="379.80" width="1.000" height="11.90"/>
<rect x="792.667" y="379.80" width="0.667" height="11.90"/>
<rect x="794.333" y="382.30" width="0.333" height="9.40"/>
<rect x="795.333" y="382.30" width="0.667" height="9.40"/>
<rect x="797.000" y="385.30" width="1.000" height="6.40"/>
<rect x="798.667" y="385.30" width="0.667" height="6.40"/>
<rect x="800.333" y="386.90" width="1.000" height="4.80"/>
<rect x="802.000" y="386.90" width="0.667" height="4.80"/>
<rect x="803.667" y="389.10" width="0.333" height="2.60"/>
<rect x="804.667" y="389.10" width="0.667" height="2.60"/>
<rect x="806.333" y="389.10" width="1.000" height="2.60"/>
<rect x="808.000" y="389.10" width="0.667" height="2.60"/>
<rect x="809.667" y="383.90" width="1.000" height="7.80"/>
<rect x="811.333" y="383.90" width="0.667" height="7.80"/>
<rect x="813.000" y="382.30" width="0.333" height="9.40"/>
<rect x="814.000" y="382.30" width="0.667" height="9.40"/>
<rect x="815.667" y="382.30" width="1.000" height="9.40"/>
<rect x="817.333" y="382.30" width="0.667" height="9.40"/>
<rect x="819.000" y="388.10" width="1.000" height="3.60"/>
<rect x="820.667" y="388.10" width="0.667" height="3.60"/>
<rect x="822.333" y="389.10" width="0.333" height="2.60"/>
<rect x="823.333" y="389.10" width="0.667" height="2.60"/>
<rect x="825.000" y="389.10" width="1.000" height="2.60"/>
<rect x="826.667" y="389.10" width="0.667" height="2.60"/>
<rect x="828.333" y="385.30" width="1.000" height="6.40"/>
<rect x="830.000" y="385.30" width="0.667" height="6.40"/>
<rect x="831.667" y="384.30" width="0.333" height="7.40"/>
<rect x="832.667" y="384.30" width="0.667" height="7.40"/>
<rect x="834.333" y="383.90" width="1.000" height="7.80"/>
<rect x="836.000" y="383.90" width="0.667" height="7.80"/>
<rect x="837.667" y="384.80" width="1.000" height="6.90"/>
<rect x="839.333" y="384.80" width="0.667" height="6.90"/>
<rect x="841.000" y="385.60" width="0.333" height="6.10"/>
<rect x="842.000" y="385.60" width="0.667" height="6.10"/>
<rect x="843.667" y="389.10" width="1.000" height="2.60"/>
<rect x="845.333" y="389.10" width="0.667" height="2.60"/>
<rect x="847.000" y="389.10" width="1.000" height="2.60"/>
<rect x="848.667" y="389.10" width="0.667" height="2.60"/>
<rect x="850.333" y="386.90" width="0.333" height="4.80"/>
<rect x="851.333" y="386.90" width="0.667" height="4.80"/>
<rect x="853.000" y="384.80" width="1.000" height="6.90"/>
<rect x="854.667" y="384.80" width="0.667" height="6.90"/>
<rect x="856.333" y="383.60" width="1.000" height="8.10"/>
<rect x="858.000" y="383.60" width="0.667" height="8.10"/>
<rect x="859.667" y="383.60" width="1.000" height="8.10"/>
<rect x="861.333" y="383.60" width="0.667" height="8.10"/>
<rect x="863.000" y="383.60" width="0.333" height="8.10"/>
</g>
<g fill="#e2f8fd">
<rect x="2.667" y="312.30" width="0.667" height="79.40"/>
<rect x="5.333" y="312.30" width="0.667" height="79.40"/>
<rect x="8.667" y="297.60" width="0.667" height="94.10"/>
<rect x="12.000" y="309.30" width="0.667" height="82.40"/>
<rect x="14.667" y="318.10" width="0.667" height="73.60"/>
<rect x="18.000" y="318.10" width="0.667" height="73.60"/>
<rect x="21.333" y="306.60" width="0.667" height="85.10"/>
<rect x="24.000" y="286.10" width="0.667" height="105.60"/>
<rect x="27.333" y="280.60" width="0.667" height="111.10"/>
<rect x="30.667" y="280.60" width="0.667" height="111.10"/>
<rect x="33.333" y="295.60" width="0.667" height="96.10"/>
<rect x="36.667" y="306.60" width="0.667" height="85.10"/>
<rect x="40.000" y="306.60" width="0.667" height="85.10"/>
<rect x="42.667" y="286.60" width="0.667" height="105.10"/>
<rect x="46.000" y="276.60" width="0.667" height="115.10"/>
<rect x="49.333" y="276.60" width="0.667" height="115.10"/>
<rect x="52.000" y="260.60" width="0.667" height="131.10"/>
<rect x="55.333" y="266.60" width="0.667" height="125.10"/>
<rect x="58.667" y="284.60" width="0.667" height="107.10"/>
<rect x="61.333" y="284.60" width="0.667" height="107.10"/>
<rect x="64.667" y="250.60" width="0.667" height="141.10"/>
<rect x="68.000" y="239.60" width="0.667" height="152.10"/>
<rect x="70.667" y="237.30" width="0.667" height="154.40"/>
<rect x="74.000" y="237.30" width="0.667" height="154.40"/>
<rect x="77.333" y="243.10" width="0.667" height="148.60"/>
<rect x="80.667" y="255.60" width="0.667" height="136.10"/>
<rect x="83.333" y="255.60" width="0.667" height="136.10"/>
<rect x="86.667" y="230.60" width="0.667" height="161.10"/>
<rect x="90.000" y="223.10" width="0.667" height="168.60"/>
<rect x="92.667" y="216.40" width="0.667" height="175.30"/>
<rect x="96.000" y="204.60" width="0.667" height="187.10"/>
<rect x="99.333" y="221.40" width="0.667" height="170.30"/>
<rect x="102.000" y="235.60" width="0.667" height="156.10"/>
<rect x="105.333" y="235.60" width="0.667" height="156.10"/>
<rect x="108.667" y="201.40" width="0.667" height="190.30"/>
<rect x="111.333" y="193.10" width="0.667" height="198.60"/>
<rect x="114.667" y="178.60" width="0.667" height="213.10"/>
<rect x="118.000" y="160.30" width="0.667" height="231.40"/>
<rect x="120.667" y="200.60" width="0.667" height="191.10"/>
<rect x="124.000" y="217.60" width="0.667" height="174.10"/>
<rect x="127.333" y="217.60" width="0.667" height="174.10"/>
<rect x="130.000" y="195.90" width="0.667" height="195.80"/>
<rect x="133.333" y="171.60" width="0.667" height="220.10"/>
<rect x="136.667" y="147.30" width="0.667" height="244.40"/>
<rect x="139.333" y="132.80" width="0.667" height="258.90"/>
<rect x="142.667" y="186.30" width="0.667" height="205.40"/>
<rect x="146.000" y="234.40" width="0.667" height="157.30"/>
<rect x="148.667" y="234.40" width="0.667" height="157.30"/>
<rect x="152.000" y="192.80" width="0.667" height="198.90"/>
<rect x="155.333" y="183.10" width="0.667" height="208.60"/>
<rect x="158.667" y="161.80" width="0.667" height="229.90"/>
<rect x="161.333" y="171.90" width="0.667" height="219.80"/>
<rect x="164.667" y="207.30" width="0.667" height="184.40"/>
<rect x="168.000" y="254.60" width="0.667" height="137.10"/>
<rect x="170.667" y="254.60" width="0.667" height="137.10"/>
<rect x="174.000" y="220.30" width="0.667" height="171.40"/>
<rect x="177.333" y="191.80" width="0.667" height="199.90"/>
<rect x="180.000" y="178.60" width="0.667" height="213.10"/>
<rect x="183.333" y="188.90" width="0.667" height="202.80"/>
<rect x="186.667" y="246.40" width="0.667" height="145.30"/>
<rect x="189.333" y="289.90" width="0.667" height="101.80"/>
<rect x="192.667" y="289.90" width="0.667" height="101.80"/>
<rect x="196.000" y="259.10" width="0.667" height="132.60"/>
<rect x="198.667" y="223.60" width="0.667" height="168.10"/>
<rect x="202.000" y="200.60" width="0.667" height="191.10"/>
<rect x="205.333" y="204.80" width="0.667" height="186.90"/>
<rect x="208.000" y="260.80" width="0.667" height="130.90"/>
<rect x="211.333" y="289.60" width="0.667" height="102.10"/>
<rect x="214.667" y="289.60" width="0.667" height="102.10"/>
<rect x="217.333" y="257.40" width="0.667" height="134.30"/>
<rect x="220.667" y="230.90" width="0.667" height="160.80"/>
<rect x="224.000" y="216.40" width="0.667" height="175.30"/>
<rect x="226.667" y="270.80" width="0.667" height="120.90"/>
<rect x="230.000" y="296.30" width="0.667" height="95.40"/>
<rect x="233.333" y="323.10" width="0.667" height="68.60"/>
<rect x="236.667" y="323.10" width="0.667" height="68.60"/>
<rect x="239.333" y="281.60" width="0.667" height="110.10"/>
<rect x="242.667" y="266.30" width="0.667" height="125.40"/>
<rect x="246.000" y="242.00" width="0.667" height="149.70"/>
<rect x="248.667" y="313.30" width="0.667" height="78.40"/>
<rect x="252.000" y="321.10" width="0.667" height="70.60"/>
<rect x="255.333" y="327.10" width="0.667" height="64.60"/>
<rect x="258.000" y="327.10" width="0.667" height="64.60"/>
<rect x="261.333" y="307.90" width="0.667" height="83.80"/>
<rect x="264.667" y="283.60" width="0.667" height="108.10"/>
<rect x="267.333" y="302.40" width="0.667" height="89.30"/>
<rect x="270.667" y="316.60" width="0.667" height="75.10"/>
<rect x="274.000" y="316.60" width="0.667" height="75.10"/>
<rect x="276.667" y="324.60" width="0.667" height="67.10"/>
<rect x="280.000" y="324.60" width="0.667" height="67.10"/>
<rect x="283.333" y="311.90" width="0.667" height="79.80"/>
<rect x="286.000" y="290.80" width="0.667" height="100.90"/>
<rect x="289.333" y="266.30" width="0.667" height="125.40"/>
<rect x="292.667" y="269.10" width="0.667" height="122.60"/>
<rect x="295.333" y="297.80" width="0.667" height="93.90"/>
<rect x="298.667" y="345.60" width="0.667" height="46.10"/>
<rect x="302.000" y="345.60" width="0.667" height="46.10"/>
<rect x="304.667" y="330.60" width="0.667" height="61.10"/>
<rect x="308.000" y="323.10" width="0.667" height="68.60"/>
<rect x="311.333" y="307.80" width="0.667" height="83.90"/>
<rect x="314.667" y="315.10" width="0.667" height="76.60"/>
<rect x="317.333" y="331.10" width="0.667" height="60.60"/>
<rect x="320.667" y="353.10" width="0.667" height="38.60"/>
<rect x="324.000" y="353.10" width="0.667" height="38.60"/>
<rect x="326.667" y="349.30" width="0.667" height="42.40"/>
<rect x="330.000" y="333.90" width="0.667" height="57.80"/>
<rect x="333.333" y="310.60" width="0.667" height="81.10"/>
<rect x="336.000" y="319.80" width="0.667" height="71.90"/>
<rect x="339.333" y="342.30" width="0.667" height="49.40"/>
<rect x="342.667" y="360.60" width="0.667" height="31.10"/>
<rect x="345.333" y="360.60" width="0.667" height="31.10"/>
<rect x="348.667" y="354.80" width="0.667" height="36.90"/>
<rect x="352.000" y="340.60" width="0.667" height="51.10"/>
<rect x="354.667" y="315.30" width="0.667" height="76.40"/>
<rect x="358.000" y="324.80" width="0.667" height="66.90"/>
<rect x="361.333" y="339.30" width="0.667" height="52.40"/>
<rect x="364.000" y="358.10" width="0.667" height="33.60"/>
<rect x="367.333" y="358.10" width="0.667" height="33.60"/>
<rect x="370.667" y="350.90" width="0.667" height="40.80"/>
<rect x="373.333" y="339.30" width="0.667" height="52.40"/>
<rect x="376.667" y="317.30" width="0.667" height="74.40"/>
<rect x="380.000" y="317.30" width="0.667" height="74.40"/>
<rect x="382.667" y="343.90" width="0.667" height="47.80"/>
<rect x="386.000" y="356.40" width="0.667" height="35.30"/>
<rect x="389.333" y="356.40" width="0.667" height="35.30"/>
<rect x="392.667" y="343.60" width="0.667" height="48.10"/>
<rect x="395.333" y="324.80" width="0.667" height="66.90"/>
<rect x="398.667" y="293.60" width="0.667" height="98.10"/>
<rect x="402.000" y="292.10" width="0.667" height="99.60"/>
<rect x="404.667" y="322.30" width="0.667" height="69.40"/>
<rect x="408.000" y="341.40" width="0.667" height="50.30"/>
<rect x="411.333" y="341.40" width="0.667" height="50.30"/>
<rect x="414.000" y="326.40" width="0.667" height="65.30"/>
<rect x="417.333" y="298.90" width="0.667" height="92.80"/>
<rect x="420.667" y="264.80" width="0.667" height="126.90"/>
<rect x="423.333" y="264.80" width="0.667" height="126.90"/>
<rect x="426.667" y="300.80" width="0.667" height="90.90"/>
<rect x="430.000" y="325.10" width="0.667" height="66.60"/>
<rect x="432.667" y="325.10" width="0.667" height="66.60"/>
<rect x="436.000" y="307.90" width="0.667" height="83.80"/>
<rect x="439.333" y="277.90" width="0.667" height="113.80"/>
<rect x="442.000" y="232.30" width="0.667" height="159.40"/>
<rect x="445.333" y="247.30" width="0.667" height="144.40"/>
<rect x="448.667" y="278.90" width="0.667" height="112.80"/>
<rect x="451.333" y="305.30" width="0.667" height="86.40"/>
<rect x="454.667" y="340.60" width="0.667" height="51.10"/>
<rect x="458.000" y="340.60" width="0.667" height="51.10"/>
<rect x="460.667" y="292.10" width="0.667" height="99.60"/>
<rect x="464.000" y="247.60" width="0.667" height="144.10"/>
<rect x="467.333" y="185.90" width="0.667" height="205.80"/>
<rect x="470.667" y="248.90" width="0.667" height="142.80"/>
<rect x="473.333" y="285.10" width="0.667" height="106.60"/>
<rect x="476.667" y="285.10" width="0.667" height="106.60"/>
<rect x="480.000" y="238.60" width="0.667" height="153.10"/>
<rect x="482.667" y="203.60" width="0.667" height="188.10"/>
<rect x="486.000" y="151.40" width="0.667" height="240.30"/>
<rect x="489.333" y="148.90" width="0.667" height="242.80"/>
<rect x="492.000" y="214.80" width="0.667" height="176.90"/>
<rect x="495.333" y="267.30" width="0.667" height="124.40"/>
<rect x="498.667" y="267.30" width="0.667" height="124.40"/>
<rect x="501.333" y="208.90" width="0.667" height="182.80"/>
<rect x="504.667" y="165.90" width="0.667" height="225.80"/>
<rect x="508.000" y="125.60" width="0.667" height="266.10"/>
<rect x="510.667" y="114.30" width="0.667" height="277.40"/>
<rect x="514.000" y="202.30" width="0.667" height="189.40"/>
<rect x="517.333" y="259.80" width="0.667" height="131.90"/>
<rect x="520.000" y="259.80" width="0.667" height="131.90"/>
<rect x="523.333" y="223.90" width="0.667" height="167.80"/>
<rect x="526.667" y="213.10" width="0.667" height="178.60"/>
<rect x="529.333" y="111.10" width="0.667" height="280.60"/>
<rect x="532.667" y="74.30" width="0.667" height="317.40"/>
<rect x="536.000" y="173.60" width="0.667" height="218.10"/>
<rect x="538.667" y="229.80" width="0.667" height="161.90"/>
<rect x="542.000" y="229.80" width="0.667" height="161.90"/>
<rect x="545.333" y="180.30" width="0.667" height="211.40"/>
<rect x="548.667" y="146.40" width="0.667" height="245.30"/>
<rect x="551.333" y="82.30" width="0.667" height="309.40"/>
<rect x="554.667" y="112.80" width="0.667" height="278.90"/>
<rect x="558.000" y="198.90" width="0.667" height="192.80"/>
<rect x="560.667" y="267.10" width="0.667" height="124.60"/>
<rect x="564.000" y="267.10" width="0.667" height="124.60"/>
<rect x="567.333" y="206.40" width="0.667" height="185.30"/>
<rect x="570.000" y="160.60" width="0.667" height="231.10"/>
<rect x="573.333" y="129.80" width="0.667" height="261.90"/>
<rect x="576.667" y="152.60" width="0.667" height="239.10"/>
<rect x="579.333" y="229.30" width="0.667" height="162.40"/>
<rect x="582.667" y="289.80" width="0.667" height="101.90"/>
<rect x="586.000" y="289.80" width="0.667" height="101.90"/>
<rect x="588.667" y="250.60" width="0.667" height="141.10"/>
<rect x="592.000" y="198.60" width="0.667" height="193.10"/>
<rect x="595.333" y="164.60" width="0.667" height="227.10"/>
<rect x="598.000" y="190.10" width="0.667" height="201.60"/>
<rect x="601.333" y="266.40" width="0.667" height="125.30"/>
<rect x="604.667" y="311.40" width="0.667" height="80.30"/>
<rect x="607.333" y="311.40" width="0.667" height="80.30"/>
<rect x="610.667" y="266.40" width="0.667" height="125.30"/>
<rect x="614.000" y="239.80" width="0.667" height="151.90"/>
<rect x="616.667" y="232.30" width="0.667" height="159.40"/>
<rect x="620.000" y="256.40" width="0.667" height="135.30"/>
<rect x="623.333" y="312.10" width="0.667" height="79.60"/>
<rect x="626.667" y="350.30" width="0.667" height="41.40"/>
<rect x="629.333" y="353.90" width="0.667" height="37.80"/>
<rect x="632.667" y="353.90" width="0.667" height="37.80"/>
<rect x="636.000" y="352.60" width="0.667" height="39.10"/>
<rect x="638.667" y="295.90" width="0.667" height="95.80"/>
<rect x="642.000" y="258.80" width="0.667" height="132.90"/>
<rect x="645.333" y="308.10" width="0.667" height="83.60"/>
<rect x="648.000" y="348.60" width="0.667" height="43.10"/>
<rect x="651.333" y="358.60" width="0.667" height="33.10"/>
<rect x="654.667" y="358.60" width="0.667" height="33.10"/>
<rect x="657.333" y="320.90" width="0.667" height="70.80"/>
<rect x="660.667" y="284.80" width="0.667" height="106.90"/>
<rect x="664.000" y="284.80" width="0.667" height="106.90"/>
<rect x="666.667" y="335.30" width="0.667" height="56.40"/>
<rect x="670.000" y="359.80" width="0.667" height="31.90"/>
<rect x="673.333" y="359.80" width="0.667" height="31.90"/>
<rect x="676.000" y="327.90" width="0.667" height="63.80"/>
<rect x="679.333" y="310.80" width="0.667" height="80.90"/>
<rect x="682.667" y="313.60" width="0.667" height="78.10"/>
<rect x="685.333" y="319.60" width="0.667" height="72.10"/>
<rect x="688.667" y="353.90" width="0.667" height="37.80"/>
<rect x="692.000" y="372.30" width="0.667" height="19.40"/>
<rect x="694.667" y="372.30" width="0.667" height="19.40"/>
<rect x="698.000" y="352.30" width="0.667" height="39.40"/>
<rect x="701.333" y="339.40" width="0.667" height="52.30"/>
<rect x="704.667" y="341.10" width="0.667" height="50.60"/>
<rect x="707.333" y="344.30" width="0.667" height="47.40"/>
<rect x="710.667" y="366.90" width="0.667" height="24.80"/>
<rect x="714.000" y="378.10" width="0.667" height="13.60"/>
<rect x="716.667" y="378.10" width="0.667" height="13.60"/>
<rect x="720.000" y="359.80" width="0.667" height="31.90"/>
<rect x="723.333" y="358.60" width="0.667" height="33.10"/>
<rect x="726.000" y="358.90" width="0.667" height="32.80"/>
<rect x="729.333" y="363.90" width="0.667" height="27.80"/>
<rect x="732.667" y="379.80" width="0.667" height="11.90"/>
<rect x="735.333" y="384.80" width="0.667" height="6.90"/>
<rect x="738.667" y="384.80" width="0.667" height="6.90"/>
<rect x="742.000" y="370.90" width="0.667" height="20.80"/>
<rect x="744.667" y="370.90" width="0.667" height="20.80"/>
<rect x="748.000" y="368.60" width="0.667" height="23.10"/>
<rect x="751.333" y="374.10" width="0.667" height="17.60"/>
<rect x="754.000" y="379.80" width="0.667" height="11.90"/>
<rect x="757.333" y="387.60" width="0.667" height="4.10"/>
<rect x="760.667" y="387.60" width="0.667" height="4.10"/>
<rect x="763.333" y="378.40" width="0.667" height="13.30"/>
<rect x="766.667" y="376.40" width="0.667" height="15.30"/>
<rect x="770.000" y="378.10" width="0.667" height="13.60"/>
<rect x="772.667" y="379.80" width="0.667" height="11.90"/>
<rect x="776.000" y="386.90" width="0.667" height="4.80"/>
<rect x="779.333" y="388.60" width="0.667" height="3.10"/>
<rect x="782.667" y="389.10" width="0.667" height="2.60"/>
<rect x="785.333" y="389.10" width="0.667" height="2.60"/>
<rect x="788.667" y="381.10" width="0.667" height="10.60"/>
<rect x="792.000" y="379.80" width="0.667" height="11.90"/>
<rect x="794.667" y="382.30" width="0.667" height="9.40"/>
<rect x="798.000" y="385.30" width="0.667" height="6.40"/>
<rect x="801.333" y="386.90" width="0.667" height="4.80"/>
<rect x="804.000" y="389.10" width="0.667" height="2.60"/>
<rect x="807.333" y="389.10" width="0.667" height="2.60"/>
<rect x="810.667" y="383.90" width="0.667" height="7.80"/>
<rect x="813.333" y="382.30" width="0.667" height="9.40"/>
<rect x="816.667" y="382.30" width="0.667" height="9.40"/>
<rect x="820.000" y="388.10" width="0.667" height="3.60"/>
<rect x="822.667" y="389.10" width="0.667" height="2.60"/>
<rect x="826.000" y="389.10" width="0.667" height="2.60"/>
<rect x="829.333" y="385.30" width="0.667" height="6.40"/>
<rect x="832.000" y="384.30" width="0.667" height="7.40"/>
<rect x="835.333" y="383.90" width="0.667" height="7.80"/>
<rect x="838.667" y="384.80" width="0.667" height="6.90"/>
<rect x="841.333" y="385.60" width="0.667" height="6.10"/>
<rect x="844.667" y="389.10" width="0.667" height="2.60"/>
<rect x="848.000" y="389.10" width="0.667" height="2.60"/>
<rect x="850.667" y="386.90" width="0.667" height="4.80"/>
<rect x="854.000" y="384.80" width="0.667" height="6.90"/>
<rect x="857.333" y="383.60" width="0.667" height="8.10"/>
<rect x="860.667" y="383.60" width="0.667" height="8.10"/>
<rect x="863.333" y="383.60" width="0.667" height="8.10"/>
</g>
<polyline fill="none" stroke="#8b1020" stroke-width="2.2" stroke-linejoin="round" points="0.00,390.05 0.00,389.85 1.10,389.63 2.66,389.48 4.22,389.41 5.78,389.40 7.34,389.39 8.90,389.37 10.46,389.37 12.02,389.45 13.58,389.62 15.14,389.84 16.70,390.02 18.26,390.06 19.82,389.94 21.38,389.71 22.94,389.47 24.50,389.30 26.06,389.23 27.62,389.21 29.18,389.20 30.74,389.18 32.30,389.19 33.86,389.28 35.42,389.47 36.98,389.71 38.54,389.91 40.10,389.95 41.66,389.82 43.22,389.57 44.78,389.31 46.34,389.12 47.90,389.04 49.46,389.03 51.02,389.02 52.58,389.00 54.14,389.00 55.70,389.10 57.26,389.31 58.82,389.58 60.38,389.79 61.94,389.82 63.50,389.65 65.06,389.35 66.62,389.04 68.18,388.82 69.74,388.71 71.30,388.67 72.86,388.63 74.42,388.59 75.98,388.58 77.54,388.66 79.10,388.86 80.66,389.13 82.22,389.34 83.78,389.37 85.34,389.20 86.90,388.88 88.46,388.54 90.02,388.30 91.58,388.19 93.14,388.15 94.70,388.11 96.26,388.07 97.82,388.06 99.38,388.15 100.94,388.37 102.50,388.67 104.06,388.90 105.62,388.93 107.18,388.74 108.74,388.40 110.30,388.05 111.86,387.83 113.42,387.74 114.98,387.74 116.54,387.74 118.10,387.73 119.66,387.76 121.22,387.92 122.78,388.27 124.34,388.71 125.90,389.09 127.46,389.21 129.02,389.03 130.58,388.61 132.14,388.16 133.70,387.84 135.26,387.71 136.82,387.71 138.38,387.71 139.94,387.70 141.50,387.74 143.06,387.96 144.62,388.43 146.18,389.02 147.74,389.52 149.30,389.68 150.86,389.40 152.42,388.84 153.98,388.25 155.54,387.85 157.10,387.70 158.66,387.70 160.22,387.71 161.78,387.69 163.34,387.74 164.90,387.99 166.46,388.49 168.02,389.11 169.58,389.60 171.14,389.73 172.70,389.44 174.26,388.87 175.82,388.27 177.38,387.87 178.94,387.71 180.50,387.71 182.06,387.72 183.62,387.71 185.18,387.76 186.74,388.01 188.30,388.51 189.86,389.14 191.42,389.64 192.98,389.78 194.54,389.48 196.10,388.90 197.66,388.29 199.22,387.89 200.78,387.73 202.34,387.72 203.90,387.74 205.46,387.72 207.02,387.77 208.58,388.03 210.14,388.54 211.70,389.18 213.26,389.68 214.82,389.82 216.38,389.52 217.94,388.93 219.50,388.32 221.06,387.90 222.62,387.74 224.18,387.74 225.74,387.75 227.30,387.73 228.86,387.79 230.42,388.05 231.98,388.56 233.54,389.21 235.10,389.72 236.66,389.86 238.22,389.56 239.78,388.96 241.34,388.34 242.90,387.92 244.46,387.76 246.02,387.75 247.58,387.76 249.14,387.75 250.70,387.80 252.26,388.06 253.82,388.59 255.38,389.24 256.94,389.77 258.50,389.91 260.06,389.60 261.62,388.99 263.18,388.36 264.74,387.94 266.30,387.77 267.86,387.77 269.42,387.78 270.98,387.76 272.54,387.82 274.10,388.08 275.66,388.61 277.22,389.28 278.78,389.81 280.34,389.95 281.90,389.64 283.46,389.02 285.02,388.38 286.58,387.95 288.14,387.79 289.70,387.78 291.26,387.79 292.82,387.78 294.38,387.83 295.94,388.10 297.50,388.64 299.06,389.31 300.62,389.86 302.18,390.02 303.74,389.72 305.30,389.12 306.86,388.49 308.42,388.08 309.98,387.93 311.54,387.94 313.10,387.97 314.66,387.98 316.22,388.05 317.78,388.34 319.34,388.90 320.90,389.59 322.46,390.15 324.02,390.31 325.58,390.01 327.14,389.41 328.70,388.78 330.26,388.36 331.82,388.20 333.38,388.19 334.94,388.21 336.50,388.19 338.06,388.25 339.62,388.52 341.18,389.06 342.74,389.74 344.30,390.27 345.86,390.42 347.42,390.10 348.98,389.48 350.54,388.84 352.10,388.40 353.66,388.24 355.22,388.23 356.78,388.25 358.34,388.23 359.90,388.29 361.46,388.56 363.02,389.10 364.58,389.78 366.14,390.31 367.70,390.46 369.26,390.14 370.82,389.52 372.38,388.88 373.94,388.44 375.50,388.28 377.06,388.27 378.62,388.29 380.18,388.27 381.74,388.33 383.30,388.60 384.86,389.14 386.42,389.82 387.98,390.35 389.54,390.50 391.10,390.18 392.66,389.56 394.22,388.92 395.78,388.48 397.34,388.32 398.90,388.31 400.46,388.33 402.02,388.31 403.58,388.37 405.14,388.64 406.70,389.18 408.26,389.86 409.82,390.39 411.38,390.54 412.94,390.22 414.50,389.60 416.06,388.96 417.62,388.52 419.18,388.36 420.74,388.35 422.30,388.37 423.86,388.35 425.42,388.41 426.98,388.68 428.54,389.22 430.10,389.90 431.66,390.43 433.22,390.58 434.78,390.26 436.34,389.64 437.90,389.00 439.46,388.56 441.02,388.34 442.58,388.24 444.14,388.16 445.70,388.05 447.26,388.02 448.82,388.25 450.38,388.81 451.94,389.56 453.50,390.17 455.06,390.32 456.62,389.88 458.18,389.01 459.74,388.08 461.30,387.43 462.86,387.15 464.42,387.09 465.98,387.05 467.54,386.98 469.10,387.00 470.66,387.33 472.22,388.05 473.78,388.96 475.34,389.69 476.90,389.86 478.46,389.36 480.02,388.41 481.58,387.41 483.14,386.71 484.70,386.40 486.26,386.33 487.82,386.29 489.38,386.20 490.94,386.21 492.50,386.56 494.06,387.32 495.62,388.29 497.18,389.05 498.74,389.22 500.30,388.68 501.86,387.67 503.42,386.62 504.98,385.89 506.54,385.58 508.10,385.52 509.66,385.48 511.22,385.40 512.78,385.44 514.34,385.82 515.90,386.64 517.46,387.68 519.02,388.50 520.58,388.69 522.14,388.13 523.70,387.07 525.26,385.95 526.82,385.17 528.38,384.83 529.94,384.76 531.50,384.72 533.06,384.63 534.62,384.66 536.18,385.05 537.74,385.91 539.30,387.00 540.86,387.86 542.42,388.06 543.98,387.46 545.54,386.35 547.10,385.24 548.66,384.48 550.22,384.19 551.78,384.18 553.34,384.20 554.90,384.17 556.46,384.26 558.02,384.73 559.58,385.66 561.14,386.82 562.70,387.74 564.26,387.98 565.82,387.43 567.38,386.34 568.94,385.25 570.50,384.53 572.06,384.27 573.62,384.29 575.18,384.32 576.74,384.32 578.30,384.42 579.86,384.84 581.42,385.65 582.98,386.62 584.54,387.36 586.10,387.53 587.66,387.06 589.22,386.22 590.78,385.36 592.34,384.77 593.90,384.56 595.46,384.56 597.02,384.59 598.58,384.59 600.14,384.68 601.70,385.09 603.26,385.90 604.82,386.93 606.38,387.76 607.94,388.03 609.50,387.61 611.06,386.72 612.62,385.78 614.18,385.16 615.74,384.94 617.30,384.98 618.86,385.04 620.42,385.05 621.98,385.18 623.54,385.66 625.10,386.58 626.66,387.73 628.22,388.66 629.78,388.96 631.34,388.50 632.90,387.52 634.46,386.49 636.02,385.83 637.58,385.65 639.14,385.73 640.70,385.84 642.26,385.91 643.82,386.08 645.38,386.58 646.94,387.47 648.50,388.53 650.06,389.36 651.62,389.60 653.18,389.20 654.74,388.39 656.30,387.56 657.86,387.03 659.42,386.88 660.98,386.94 662.54,387.02 664.10,387.06 665.66,387.19 667.22,387.56 668.78,388.21 670.34,388.97 671.90,389.54 673.46,389.69 675.02,389.40 676.58,388.82 678.14,388.22 679.70,387.83 681.26,387.70 682.82,387.74 684.38,387.80 685.94,387.82 687.50,387.92 689.06,388.23 690.62,388.82 692.18,389.53 693.74,390.11 695.30,390.29 696.86,389.99 698.42,389.43 699.98,388.89 701.54,388.58 703.10,388.52 704.66,388.59 706.22,388.68 707.78,388.75 709.34,388.87 710.90,389.13 712.46,389.53 714.02,389.98 715.58,390.30 717.14,390.38 718.70,390.24 720.26,389.97 721.82,389.71 723.38,389.55 724.94,389.52 726.50,389.55 728.06,389.59 729.62,389.62 731.18,389.68 732.74,389.81 734.30,390.03 735.86,390.27 737.42,390.46 738.98,390.52 740.54,390.43 742.10,390.27 743.66,390.12 745.22,390.04 746.78,390.03 748.34,390.07 749.90,390.11 751.46,390.14 753.02,390.19 754.58,390.28 756.14,390.40 757.70,390.53 759.26,390.62 760.82,390.65 762.38,390.61 763.94,390.53 765.50,390.44 767.06,390.39 768.62,390.37 770.18,390.37 771.74,390.38 773.30,390.38 774.86,390.39 776.42,390.43 777.98,390.50 779.54,390.59 781.10,390.66 782.66,390.68 784.22,390.64 785.78,390.56 787.34,390.49 788.90,390.44 790.46,390.42 792.02,390.43 793.58,390.43 795.14,390.43 796.70,390.44 798.26,390.48 799.82,390.54 801.38,390.62 802.94,390.68 804.50,390.70 806.06,390.67 807.62,390.60 809.18,390.54 810.74,390.49 812.30,390.48 813.86,390.48 815.42,390.49 816.98,390.49 818.54,390.50 820.10,390.53 821.66,390.59 823.22,390.66 824.78,390.71 826.34,390.73 827.90,390.70 829.46,390.64 831.02,390.58 832.58,390.54 834.14,390.53 835.70,390.53 837.26,390.54 838.82,390.54 840.38,390.55 841.94,390.58 843.50,390.63 845.06,390.69 846.62,390.74 848.18,390.75 849.74,390.73 851.30,390.68 852.86,390.63 854.42,390.60 855.98,390.59 857.54,390.59 859.10,390.59 860.66,390.60 862.22,390.60 863.78,390.63 864.00,390.67 864.00,390.73"/>
</svg>
<svg width="900" height="505" viewBox="0 0 900 505" style="position:absolute;left:0;top:0;will-change:transform;">
<g class="lb">
<g transform="translate(19.60,415.60) rotate(-45)"><text x="-65.22 -57.04 -45.79 -37.61 -33.47 -25.06 -16.65 -8.24" y="0">9.0.2020</text><path d="M-70.88,-7.26 L-67.14,-9.92 L-67.14,0 M-51.45,-7.26 L-47.71,-9.92 L-47.71,0"/></g>
<g transform="translate(50.80,415.60) rotate(-45)"><text x="-73.63 -65.22 -57.04 -45.79 -37.61 -33.47 -25.06 -16.65 -8.24" y="0">29.0.2020</text><path d="M-51.45,-7.26 L-47.71,-9.92 L-47.71,0"/></g>
<g transform="translate(82.00,415.60) rotate(-45)"><text x="-72.33 -63.92 -55.74 -37.61 -33.47 -25.06 -16.65 -8.24" y="0">08..2020</text><path d="M-50.14,-7.26 L-46.40,-9.92 L-46.40,0 M-43.04,-7.26 L-39.30,-9.92 L-39.30,0"/></g>
<g transform="translate(113.20,415.60) rotate(-45)"><text x="-63.92 -55.74 -37.61 -33.47 -25.06 -16.65 -8.24" y="0">8..2020</text><path d="M-69.57,-7.26 L-65.83,-9.92 L-65.83,0 M-50.14,-7.26 L-46.40,-9.92 L-46.40,0 M-43.04,-7.26 L-39.30,-9.92 L-39.30,0"/></g>
<g transform="translate(144.40,415.60) rotate(-45)"><text x="-72.33 -63.92 -55.74 -37.61 -33.47 -25.06 -16.65 -8.24" y="0">28..2020</text><path d="M-50.14,-7.26 L-46.40,-9.92 L-46.40,0 M-43.04,-7.26 L-39.30,-9.92 L-39.30,0"/></g>
<g transform="translate(175.60,415.60) rotate(-45)"><text x="-73.63 -65.22 -57.04 -45.79 -37.61 -33.47 -25.06 -16.65 -8.24" y="0">08.2.2020</text><path d="M-51.45,-7.26 L-47.71,-9.92 L-47.71,0"/></g>
<g transform="translate(206.80,415.60) rotate(-45)"><text x="-65.22 -57.04 -45.79 -37.61 -33.47 -25.06 -16.65 -8.24" y="0">8.2.2020</text><path d="M-70.88,-7.26 L-67.14,-9.92 L-67.14,0 M-51.45,-7.26 L-47.71,-9.92 L-47.71,0"/></g>
<g transform="translate(238.00,415.60) rotate(-45)"><text x="-73.63 -65.22 -57.04 -45.79 -37.61 -33.47 -25.06 -16.65 -8.24" y="0">28.2.2020</text><path d="M-51.45,-7.26 L-47.71,-9.92 L-47.71,0"/></g>
<g transform="translate(269.20,415.60) rotate(-45)"><text x="-71.46 -63.05 -54.87 -50.72 -35.44 -31.29 -22.88 -14.47" y="0">07.0.202</text><path d="M-40.86,-7.26 L-37.12,-9.92 L-37.12,0 M-4.61,-7.26 L-0.87,-9.92 L-0.87,0"/></g>
<g transform="translate(300.40,415.60) rotate(-45)"><text x="-63.05 -54.87 -50.72 -35.44 -31.29 -22.88 -14.47" y="0">7.0.202</text><path d="M-68.70,-7.26 L-64.96,-9.92 L-64.96,0 M-40.86,-7.26 L-37.12,-9.92 L-37.12,0 M-4.61,-7.26 L-0.87,-9.92 L-0.87,0"/></g>
<g transform="translate(331.60,415.60) rotate(-45)"><text x="-71.46 -63.05 -54.87 -50.72 -35.44 -31.29 -22.88 -14.47" y="0">27.0.202</text><path d="M-40.86,-7.26 L-37.12,-9.92 L-37.12,0 M-4.61,-7.26 L-0.87,-9.92 L-0.87,0"/></g>
<g transform="translate(362.80,415.60) rotate(-45)"><text x="-72.76 -64.35 -56.17 -52.03 -43.62 -35.44 -31.29 -22.88 -14.47" y="0">06.02.202</text><path d="M-4.61,-7.26 L-0.87,-9.92 L-0.87,0"/></g>
<g transform="translate(394.00,415.60) rotate(-45)"><text x="-64.35 -56.17 -52.03 -43.62 -35.44 -31.29 -22.88 -14.47" y="0">6.02.202</text><path d="M-70.01,-7.26 L-66.27,-9.92 L-66.27,0 M-4.61,-7.26 L-0.87,-9.92 L-0.87,0"/></g>
<g transform="translate(425.20,415.60) rotate(-45)"><text x="-72.76 -64.35 -56.17 -52.03 -43.62 -35.44 -31.29 -22.88 -14.47" y="0">26.02.202</text><path d="M-4.61,-7.26 L-0.87,-9.92 L-0.87,0"/></g>
<g transform="translate(456.40,415.60) rotate(-45)"><text x="-72.76 -64.35 -56.17 -52.03 -43.62 -35.44 -31.29 -22.88 -14.47" y="0">08.03.202</text><path d="M-4.61,-7.26 L-0.87,-9.92 L-0.87,0"/></g>
<g transform="translate(487.60,415.60) rotate(-45)"><text x="-64.35 -56.17 -52.03 -43.62 -35.44 -31.29 -22.88 -14.47" y="0">8.03.202</text><path d="M-70.01,-7.26 L-66.27,-9.92 L-66.27,0 M-4.61,-7.26 L-0.87,-9.92 L-0.87,0"/></g>
<g transform="translate(518.80,415.60) rotate(-45)"><text x="-72.76 -64.35 -56.17 -52.03 -43.62 -35.44 -31.29 -22.88 -14.47" y="0">28.03.202</text><path d="M-4.61,-7.26 L-0.87,-9.92 L-0.87,0"/></g>
<g transform="translate(550.00,415.60) rotate(-45)"><text x="-72.76 -64.35 -56.17 -52.03 -43.62 -35.44 -31.29 -22.88 -14.47" y="0">07.04.202</text><path d="M-4.61,-7.26 L-0.87,-9.92 L-0.87,0"/></g>
<g transform="translate(581.20,415.60) rotate(-45)"><text x="-64.35 -56.17 -52.03 -43.62 -35.44 -31.29 -22.88 -14.47" y="0">7.04.202</text><path d="M-70.01,-7.26 L-66.27,-9.92 L-66.27,0 M-4.61,-7.26 L-0.87,-9.92 L-0.87,0"/></g>
<g transform="translate(612.40,415.60) rotate(-45)"><text x="-72.76 -64.35 -56.17 -52.03 -43.62 -35.44 -31.29 -22.88 -14.47" y="0">27.04.202</text><path d="M-4.61,-7.26 L-0.87,-9.92 L-0.87,0"/></g>
<g transform="translate(643.60,415.60) rotate(-45)"><text x="-72.76 -64.35 -56.17 -52.03 -43.62 -35.44 -31.29 -22.88 -14.47" y="0">07.05.202</text><path d="M-4.61,-7.26 L-0.87,-9.92 L-0.87,0"/></g>
<g transform="translate(674.80,415.60) rotate(-45)"><text x="-64.35 -56.17 -52.03 -43.62 -35.44 -31.29 -22.88 -14.47" y="0">7.05.202</text><path d="M-70.01,-7.26 L-66.27,-9.92 L-66.27,0 M-4.61,-7.26 L-0.87,-9.92 L-0.87,0"/></g>
<g transform="translate(706.00,415.60) rotate(-45)"><text x="-72.76 -64.35 -56.17 -52.03 -43.62 -35.44 -31.29 -22.88 -14.47" y="0">27.05.202</text><path d="M-4.61,-7.26 L-0.87,-9.92 L-0.87,0"/></g>
<g transform="translate(737.20,415.60) rotate(-45)"><text x="-72.76 -64.35 -56.17 -52.03 -43.62 -35.44 -31.29 -22.88 -14.47" y="0">06.06.202</text><path d="M-4.61,-7.26 L-0.87,-9.92 L-0.87,0"/></g>
<g transform="translate(768.40,415.60) rotate(-45)"><text x="-64.35 -56.17 -52.03 -43.62 -35.44 -31.29 -22.88 -14.47" y="0">6.06.202</text><path d="M-70.01,-7.26 L-66.27,-9.92 L-66.27,0 M-4.61,-7.26 L-0.87,-9.92 L-0.87,0"/></g>
<g transform="translate(799.60,415.60) rotate(-45)"><text x="-72.76 -64.35 -56.17 -52.03 -43.62 -35.44 -31.29 -22.88 -14.47" y="0">26.06.202</text><path d="M-4.61,-7.26 L-0.87,-9.92 L-0.87,0"/></g>
<g transform="translate(830.80,415.60) rotate(-45)"><text x="-72.76 -64.35 -56.17 -52.03 -43.62 -35.44 -31.29 -22.88 -14.47" y="0">06.07.202</text><path d="M-4.61,-7.26 L-0.87,-9.92 L-0.87,0"/></g>
<g transform="translate(862.00,415.60) rotate(-45)"><text x="-64.35 -56.17 -52.03 -43.62 -35.44 -31.29 -22.88 -14.47" y="0">6.07.202</text><path d="M-70.01,-7.26 L-66.27,-9.92 L-66.27,0 M-4.61,-7.26 L-0.87,-9.92 L-0.87,0"/></g>
</g>
</svg>
</body></html>
